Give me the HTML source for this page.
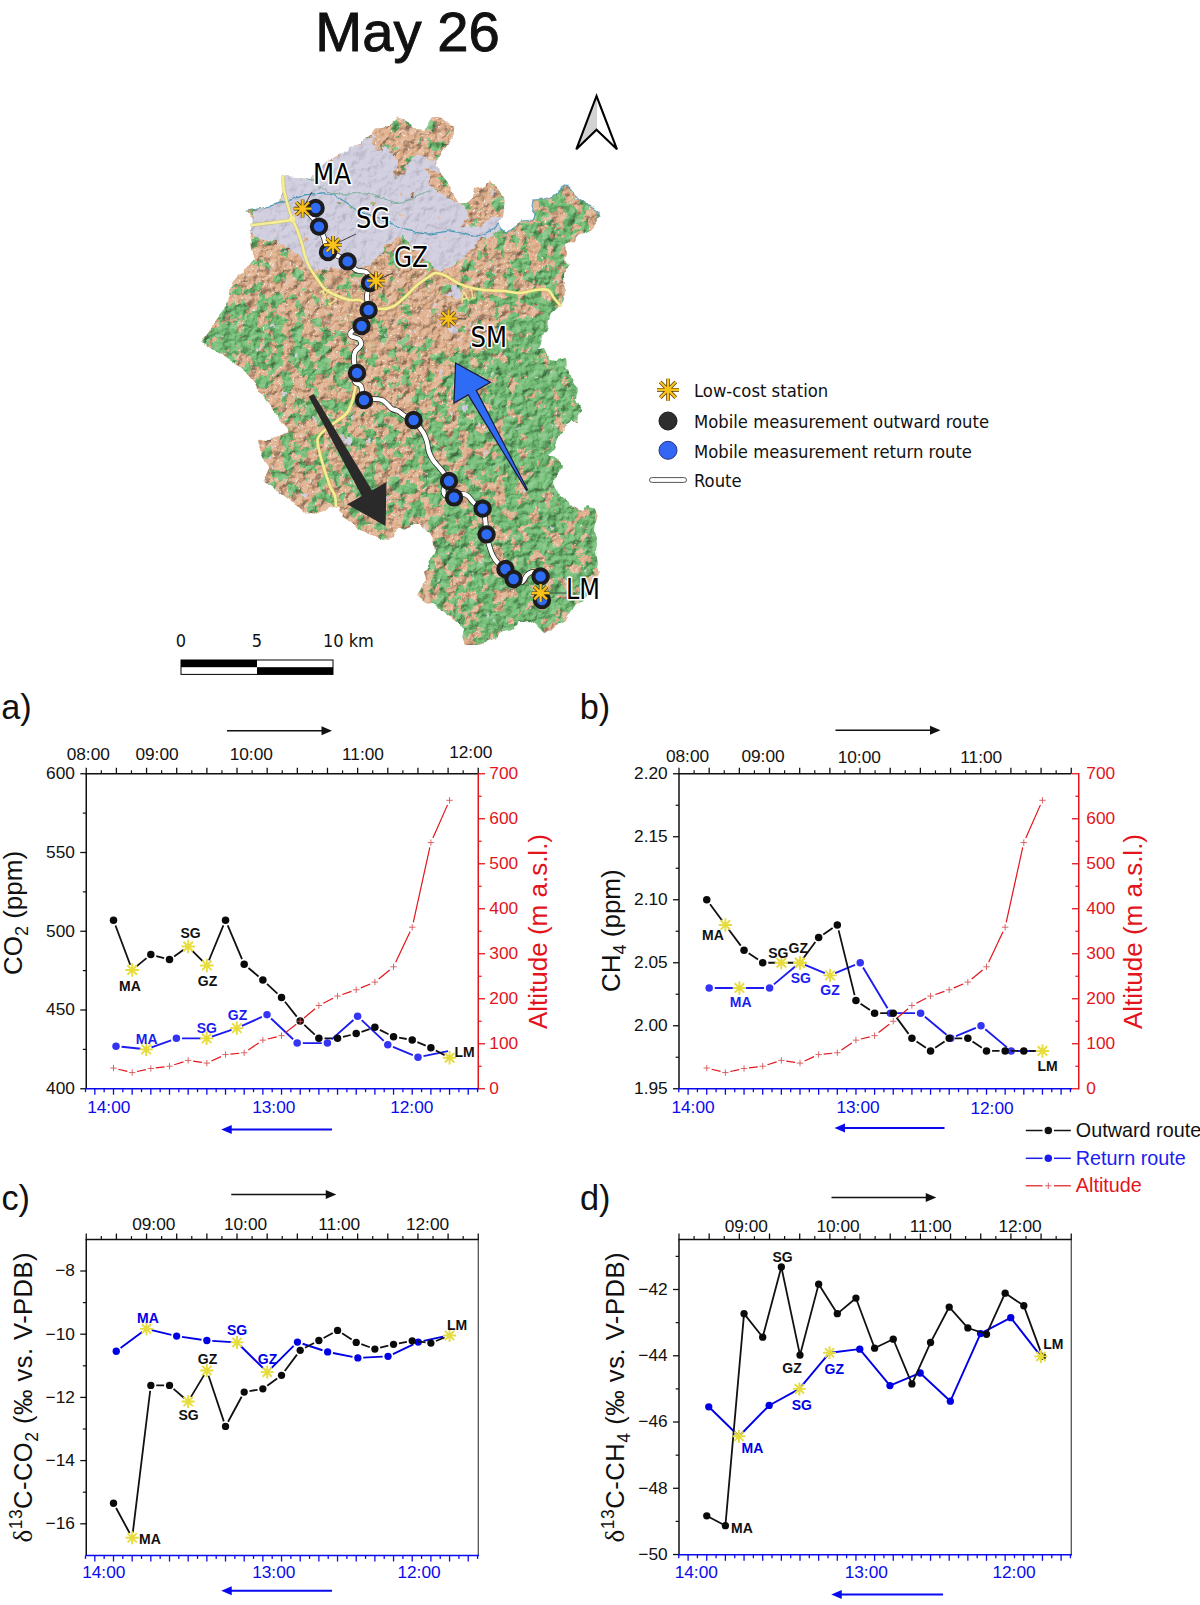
<!DOCTYPE html>
<html lang="en"><head><meta charset="utf-8"><title>May 26</title>
<style>html,body{margin:0;padding:0;background:#fff}svg{display:block}</style></head><body>
<svg width="1200" height="1605" viewBox="0 0 1200 1605">
<rect width="1200" height="1605" fill="#fff"/>
<text x="315.3" y="51.4" font-size="55.5" fill="#111" text-anchor="start" font-weight="normal" font-family="'Liberation Sans', sans-serif" textLength="184.4" lengthAdjust="spacingAndGlyphs" stroke="#111" stroke-width="0.9">May 26</text>
<defs>
<clipPath id="mapclip"><path d="M245 211L260 208L278 203L284 190L283 176L310 178L325 162.5L340 155L350 147.5L365 140L375 130L387.5 126L397.5 117.5L407.5 120L415 129L425 130L432.5 117.5L440 116L445 121L453.75 126L452.5 137.5L442.5 152.5L436 162.5L440 172.5L450 185L455 197.5L460 204L468 204L472 196L474 189L484 187L490 181L496 185L500 192L504 198L503 208L504 215L498 223L501 228L506 232L514 226L522 220L532 219L536 215L532 206L533 200L544 199L558 195L560 189L566 185L571 190L578 198L588 205L597 211L599 217L595 224L592 229L580 235L574 241L566 244L567 254L564 260L570 265L566 272L563 280L565 290L564 300L560 306L552 313L549 320L548 328L543 334L540 343L538 349L544 348L547 354L550 360L558 361L565 359L566 366L570 373L573 382L577 390L576 400L579 406L583 411L578 416L577 423L571 420L568 426L562 432L558 440L555 448L549 455L558 460L563 467L559 473L553 480L556 488L560 495L570 503L577 510L584 511L588 505L594 509L597 518L595 530L597 540L595 552L597 562L600 572L596 580L590 596L576 604L571 612L566 620L558 624L552 630L544 632L536 624L528 620L520 622L512 630L504 632L494 638L486 641L480 645L466 645L462 638L464 630L458 622L446 616L440 608L432 604L422 600L417 596L422 588L426 580L424 572L428 566L432 558L435 550L433 542L429 534L420 524L414 524L406 530L400 528L392 538L382 540L370 534L360 530L350 522L342 516L338 506L330 508L322 512L314 516L306 514L298 506L290 500L282 494L274 488L264 482L268 474L270 468L264 460L259 450L257 439L266 441L278 436L290 432L284 424L276 414L268 404L260 394L256 384L248 374L238 366L226 358L214 350L201 342L208 332L216 320L224 310L230 296L231 284L238 276L246 268L254 258L252 248L250 236L252 224L250 214Z"/></clipPath>
<filter id="mottle" x="0" y="0" width="1" height="1" filterUnits="objectBoundingBox" color-interpolation-filters="sRGB">
<feGaussianBlur in="SourceGraphic" stdDeviation="7" result="field"/>
<feTurbulence type="fractalNoise" baseFrequency="0.085" numOctaves="4" seed="7" result="noise"/>
<feComposite in="field" in2="noise" operator="arithmetic" k1="0" k2="1" k3="2.6" k4="-1.3" result="sum"/>
<feComponentTransfer in="sum" result="mask"><feFuncA type="linear" slope="14" intercept="-6.5"/></feComponentTransfer>
<feFlood flood-color="#6fbb72" result="g"/>
<feComposite in="g" in2="mask" operator="in"/>
</filter>
<filter id="greyedge" x="-0.05" y="-0.05" width="1.1" height="1.1" color-interpolation-filters="sRGB">
<feGaussianBlur in="SourceGraphic" stdDeviation="2.2" result="field"/>
<feTurbulence type="fractalNoise" baseFrequency="0.09" numOctaves="3" seed="3" result="noise"/>
<feComposite in="field" in2="noise" operator="arithmetic" k1="0" k2="1" k3="1.6" k4="-0.8" result="sum"/>
<feComponentTransfer in="sum" result="mask"><feFuncA type="linear" slope="14" intercept="-6.5"/></feComponentTransfer>
<feFlood flood-color="#d1cfe0" result="g"/>
<feComposite in="g" in2="mask" operator="in"/>
</filter>
<filter id="relief" x="0" y="0" width="1" height="1" color-interpolation-filters="sRGB">
<feTurbulence type="fractalNoise" baseFrequency="0.11" numOctaves="3" seed="11" result="n"/>
<feDiffuseLighting in="n" surfaceScale="2.6" diffuseConstant="0.72" lighting-color="#fff" result="lit"><feDistantLight azimuth="225" elevation="45"/></feDiffuseLighting>
<feComposite in="lit" in2="SourceGraphic" operator="in"/>
</filter>
<filter id="specks" x="0" y="0" width="1" height="1" color-interpolation-filters="sRGB">
<feTurbulence type="fractalNoise" baseFrequency="0.4" numOctaves="2" seed="5" result="noise"/>
<feComponentTransfer in="noise" result="mask"><feFuncA type="linear" slope="14" intercept="-9.3"/></feComponentTransfer>
<feFlood flood-color="#eadfd8" result="g"/>
<feComposite in="g" in2="mask" operator="in" result="sp"/>
<feComposite in="sp" in2="SourceGraphic" operator="in"/>
</filter>
<filter id="jag" filterUnits="userSpaceOnUse" x="180" y="80" width="450" height="590" color-interpolation-filters="sRGB">
<feTurbulence type="fractalNoise" baseFrequency="0.11" numOctaves="2" seed="21" result="t"/>
<feDisplacementMap in="SourceGraphic" in2="t" scale="5.5" xChannelSelector="R" yChannelSelector="G"/>
</filter>
</defs>
<g filter="url(#jag)"><g clip-path="url(#mapclip)">
<rect x="190" y="85" width="430" height="575" fill="#dfae8a"/>
<rect x="190" y="85" width="430" height="575" fill="#fff" filter="url(#specks)"/>
<g filter="url(#mottle)">
<rect x="150" y="45" width="510" height="655" fill="#fff" fill-opacity="0.12"/>
<path d="M455 350L500 330L548 300L570 300L600 330L585 410L560 440L600 510L600 575L575 610L540 635L470 648L445 615L420 598L430 560L435 545L420 522L400 528L395 500L410 470L400 440L430 410L440 380Z" fill="#fff" fill-opacity="0.58"/>
<path d="M500 340L560 310L600 340L590 420L560 450L575 500L540 520L505 470L490 400Z" fill="#fff" fill-opacity="0.65"/>
<path d="M520 520L600 500L605 600L540 640L480 640L470 600Z" fill="#fff" fill-opacity="0.3"/>
<path d="M262 380L300 370L350 380L400 440L395 500L380 540L340 515L300 505L262 480L257 440L290 432Z" fill="#fff" fill-opacity="0.32"/>
<path d="M200 342L212 324L232 290L250 285L270 300L300 330L340 335L352 350L352 380L300 370L262 380L248 374L226 358Z" fill="#fff" fill-opacity="0.6"/>
<path d="M200 342L215 320L240 320L262 350L240 370Z" fill="#fff" fill-opacity="0.4"/>
<path d="M505 232L522 220L536 215L533 200L560 190L566 185L599 215L580 235L566 244L567 254L570 265L563 280L564 300L549 320L530 330L510 300L520 270L525 250Z" fill="#fff" fill-opacity="0.55"/>
<path d="M470 250L505 240L525 250L520 270L510 300L530 330L500 330L475 320L465 290Z" fill="#fff" fill-opacity="0.22"/>
<path d="M425 118L456 122L450 150L436 163L420 150L400 122Z" fill="#fff" fill-opacity="0.25"/>
<path d="M352 330L400 340L455 350L440 380L430 410L400 440L350 380Z" fill="#fff" fill-opacity="0.18"/>
</g>
<g style="mix-blend-mode:hard-light" opacity="0.5"><rect x="190" y="85" width="430" height="575" fill="#fff" filter="url(#relief)"/></g>
<g filter="url(#greyedge)">
<rect x="190" y="85" width="430" height="575" fill="#fff" fill-opacity="0.01"/>
<path d="M250 214L262 207L280 202L284 190L283 176L310 178L325 162L340 155L350 147L365 140L371 142L377 148L386 146L392 155L399 162L395 177L403 173L410 160L417 155L428 160L434 162L436 170L428 171L432 186L441 195L450 199L458 203L465 205L467 214L463 225L470 228L483 225L491 217L502 219L500 228L490 236L478 240L470 252L460 260L450 268L436 272L430 260L416 250L405 240L395 238L388 244L380 254L364 268L350 272L330 266L318 272L308 268L298 254L284 244L270 240L250 236Z" fill="#fff" fill-opacity="0.95"/>
<circle cx="455" cy="290" r="9" fill="#fff" fill-opacity="0.6"/>
<circle cx="452" cy="330" r="7" fill="#fff" fill-opacity="0.6"/>
<circle cx="415" cy="345" r="6" fill="#fff" fill-opacity="0.6"/>
<circle cx="470" cy="395" r="5" fill="#fff" fill-opacity="0.6"/>
<circle cx="345" cy="440" r="6" fill="#fff" fill-opacity="0.6"/>
<circle cx="385" cy="500" r="6" fill="#fff" fill-opacity="0.6"/>
<circle cx="428" cy="475" r="5" fill="#fff" fill-opacity="0.6"/>
<circle cx="325" cy="395" r="5" fill="#fff" fill-opacity="0.6"/>
<circle cx="300" cy="352" r="4" fill="#fff" fill-opacity="0.6"/>
<circle cx="530" cy="385" r="5" fill="#fff" fill-opacity="0.6"/>
<circle cx="465" cy="410" r="5" fill="#fff" fill-opacity="0.6"/>
<circle cx="495" cy="620" r="5" fill="#fff" fill-opacity="0.6"/>
<circle cx="585" cy="440" r="3" fill="#fff" fill-opacity="0.6"/>
</g>
<g style="mix-blend-mode:hard-light" opacity="0.2"><rect x="190" y="85" width="430" height="575" fill="#fff" filter="url(#relief)"/></g>
<path d="M245 211C248.17 210.33 257.5 208.5 264 207C270.5 205.5 278 203.67 284 202C290 200.33 294 198.33 300 197C306 195.67 314.33 194.33 320 194C325.67 193.67 329.67 193.5 334 195C338.33 196.5 341.67 200.17 346 203C350.33 205.83 355 209.5 360 212C365 214.5 370.67 216 376 218C381.33 220 387.67 222.17 392 224C396.33 225.83 398 227.67 402 229C406 230.33 412 231.17 416 232C420 232.83 422 233.93 426 234C430 234.07 435.67 232.9 440 232.4C444.33 231.9 448 230.73 452 231C456 231.27 460 233.17 464 234C468 234.83 472 236.33 476 236C480 235.67 484.67 233.83 488 232C491.33 230.17 494 226.17 496 225C498 223.83 499.17 224.33 500 225C500.83 225.67 499.67 227.83 501 229C502.33 230.17 506.83 231.5 508 232" fill="none" stroke="#4f9bb8" stroke-width="1.3"/>
<path d="M283 175.5C287.5 176 302.17 175.67 310 178.5C317.83 181.33 320.83 189.92 330 192.5C339.17 195.08 356.67 193.17 365 194C373.33 194.83 374.58 196.08 380 197.5C385.42 198.92 391.67 202.5 397.5 202.5C403.33 202.5 409.58 199.58 415 197.5C420.42 195.42 427.5 191.25 430 190" fill="none" stroke="#6aa88c" stroke-width="0.9"/>
</g>
<path d="M501 228L506 232L514 226L522 220L532 219L536 215L532 206L533 200L544 199L558 195L560 189L566 185L571 190L578 198L588 205L597 211L599 217" fill="none" stroke="#5a9db8" stroke-width="1.1" stroke-linejoin="round" opacity="0.9"/>
</g>
<path d="M283 177C283.17 179.17 283.17 185.17 284 190C284.83 194.83 286.67 201.33 288 206C289.33 210.67 290.33 213.67 292 218C293.67 222.33 296.33 227.67 298 232C299.67 236.33 300.83 240 302 244C303.17 248 303.67 252 305 256C306.33 260 307.83 264 310 268C312.17 272 315.33 276.33 318 280C320.67 283.67 322.67 287.33 326 290C329.33 292.67 334 294.33 338 296C342 297.67 346.33 299.33 350 300C353.67 300.67 357 299 360 300C363 301 364.33 304.5 368 306C371.67 307.5 377.67 309 382 309C386.33 309 390 308.17 394 306C398 303.83 402.33 299.33 406 296C409.67 292.67 412 289.33 416 286C420 282.67 426.67 278.17 430 276C433.33 273.83 433.33 273 436 273C438.67 273 442.67 274.5 446 276C449.33 277.5 452.33 280.17 456 282C459.67 283.83 463.33 285.67 468 287C472.67 288.33 478 289.33 484 290C490 290.67 498 290.5 504 291C510 291.5 514.67 293.17 520 293C525.33 292.83 531.33 290.5 536 290C540.67 289.5 545 288.67 548 290C551 291.33 552 295.5 554 298C556 300.5 559 303.83 560 305" fill="none" stroke="#b9ad4e" stroke-width="3.8" stroke-linecap="round" opacity="0.55"/>
<path d="M283 177C283.17 179.17 283.17 185.17 284 190C284.83 194.83 286.67 201.33 288 206C289.33 210.67 290.33 213.67 292 218C293.67 222.33 296.33 227.67 298 232C299.67 236.33 300.83 240 302 244C303.17 248 303.67 252 305 256C306.33 260 307.83 264 310 268C312.17 272 315.33 276.33 318 280C320.67 283.67 322.67 287.33 326 290C329.33 292.67 334 294.33 338 296C342 297.67 346.33 299.33 350 300C353.67 300.67 357 299 360 300C363 301 364.33 304.5 368 306C371.67 307.5 377.67 309 382 309C386.33 309 390 308.17 394 306C398 303.83 402.33 299.33 406 296C409.67 292.67 412 289.33 416 286C420 282.67 426.67 278.17 430 276C433.33 273.83 433.33 273 436 273C438.67 273 442.67 274.5 446 276C449.33 277.5 452.33 280.17 456 282C459.67 283.83 463.33 285.67 468 287C472.67 288.33 478 289.33 484 290C490 290.67 498 290.5 504 291C510 291.5 514.67 293.17 520 293C525.33 292.83 531.33 290.5 536 290C540.67 289.5 545 288.67 548 290C551 291.33 552 295.5 554 298C556 300.5 559 303.83 560 305" fill="none" stroke="#f5ee93" stroke-width="2.6" stroke-linecap="round"/>
<path d="M292 220C288.33 220.5 276.67 222.17 270 223C263.33 223.83 255 224.67 252 225" fill="none" stroke="#b9ad4e" stroke-width="3.8" stroke-linecap="round" opacity="0.55"/>
<path d="M292 220C288.33 220.5 276.67 222.17 270 223C263.33 223.83 255 224.67 252 225" fill="none" stroke="#f5ee93" stroke-width="2.6" stroke-linecap="round"/>
<path d="M356 384C355.33 387 353.67 397 352 402C350.33 407 349.67 410 346 414C342.33 418 334.67 422 330 426C325.33 430 319.67 433.33 318 438C316.33 442.67 319 449 320 454C321 459 322.33 462.67 324 468C325.67 473.33 328.17 481.33 330 486C331.83 490.67 334 492.67 335 496C336 499.33 335.83 504.33 336 506" fill="none" stroke="#b9ad4e" stroke-width="3.8" stroke-linecap="round" opacity="0.55"/>
<path d="M356 384C355.33 387 353.67 397 352 402C350.33 407 349.67 410 346 414C342.33 418 334.67 422 330 426C325.33 430 319.67 433.33 318 438C316.33 442.67 319 449 320 454C321 459 322.33 462.67 324 468C325.67 473.33 328.17 481.33 330 486C331.83 490.67 334 492.67 335 496C336 499.33 335.83 504.33 336 506" fill="none" stroke="#f5ee93" stroke-width="2.6" stroke-linecap="round"/>
<circle cx="292" cy="219" r="3" fill="#f7f08c"/>
<text x="319" y="292" font-size="13.5" fill="#f0e88a" font-family="'DejaVu Sans Condensed', 'Liberation Sans', sans-serif" transform="rotate(52 319 292)">A-1</text>
<text x="462" y="303" font-size="14" fill="#f0e88a" font-family="'DejaVu Sans Condensed', 'Liberation Sans', sans-serif" transform="rotate(-20 462 303)" font-style="italic">A1</text>
<path d="M302.6 208.6C303.83 209.5 307.27 211 310 214C312.73 217 316.67 222.6 319 226.6C321.33 230.6 322.5 233.77 324 238C325.5 242.23 325.67 249 328 252C330.33 255 334.73 254.43 338 256C341.27 257.57 344.6 259.07 347.6 261.4C350.6 263.73 352.93 268.23 356 270C359.07 271.77 363.5 270.33 366 272C368.5 273.67 370.33 278.17 371 280C371.67 281.83 370.67 280.33 370 283C369.33 285.67 367.23 291.5 367 296C366.77 300.5 368.93 306.33 368.6 310C368.27 313.67 366.17 315.33 365 318C363.83 320.67 363.77 323.83 361.6 326C359.43 328.17 353.77 329.33 352 331C350.23 332.67 349.83 334.67 351 336C352.17 337.33 357.33 337.5 359 339C360.67 340.5 361.67 342.83 361 345C360.33 347.17 356.17 349.17 355 352C353.83 354.83 353.67 358.5 354 362C354.33 365.5 356.83 369.67 357 373C357.17 376.33 354.33 379.83 355 382C355.67 384.17 359.5 383 361 386C362.5 389 362.17 397.83 364 400C365.83 402.17 369 399 372 399C375 399 379.33 399 382 400C384.67 401 386.33 403.5 388 405C389.67 406.5 390.33 408 392 409C393.67 410 395.83 409.83 398 411C400.17 412.17 402.4 414.5 405 416C407.6 417.5 411.1 418 413.6 420C416.1 422 418.27 425.67 420 428C421.73 430.33 422.83 431.67 424 434C425.17 436.33 426.17 439 427 442C427.83 445 428 449 429 452C430 455 431.5 457.67 433 460C434.5 462.33 436.33 464 438 466C439.67 468 441.17 469.5 443 472C444.83 474.5 448.83 478.33 449 481C449.17 483.67 444.67 485.67 444 488C443.33 490.33 443.33 493.43 445 495C446.67 496.57 451.17 497.57 454 497.4C456.83 497.23 459.67 494.23 462 494C464.33 493.77 466 494.5 468 496C470 497.5 471.57 500.9 474 503C476.43 505.1 480.77 506.1 482.6 508.6C484.43 511.1 484.33 513.7 485 518C485.67 522.3 485.93 529.9 486.6 534.4C487.27 538.9 487.93 541.4 489 545C490.07 548.6 491.5 553 493 556C494.5 559 495.93 560.83 498 563C500.07 565.17 502.8 566.33 505.4 569C508 571.67 510.83 576.83 513.6 579C516.37 581.17 519.77 582.67 522 582C524.23 581.33 525.17 576.67 527 575C528.83 573.33 530.73 571.77 533 572C535.27 572.23 539.33 575.67 540.6 576.4" fill="none" stroke="#222" stroke-width="5.6" stroke-linecap="round" stroke-linejoin="round"/>
<path d="M302.6 208.6C303.83 209.5 307.27 211 310 214C312.73 217 316.67 222.6 319 226.6C321.33 230.6 322.5 233.77 324 238C325.5 242.23 325.67 249 328 252C330.33 255 334.73 254.43 338 256C341.27 257.57 344.6 259.07 347.6 261.4C350.6 263.73 352.93 268.23 356 270C359.07 271.77 363.5 270.33 366 272C368.5 273.67 370.33 278.17 371 280C371.67 281.83 370.67 280.33 370 283C369.33 285.67 367.23 291.5 367 296C366.77 300.5 368.93 306.33 368.6 310C368.27 313.67 366.17 315.33 365 318C363.83 320.67 363.77 323.83 361.6 326C359.43 328.17 353.77 329.33 352 331C350.23 332.67 349.83 334.67 351 336C352.17 337.33 357.33 337.5 359 339C360.67 340.5 361.67 342.83 361 345C360.33 347.17 356.17 349.17 355 352C353.83 354.83 353.67 358.5 354 362C354.33 365.5 356.83 369.67 357 373C357.17 376.33 354.33 379.83 355 382C355.67 384.17 359.5 383 361 386C362.5 389 362.17 397.83 364 400C365.83 402.17 369 399 372 399C375 399 379.33 399 382 400C384.67 401 386.33 403.5 388 405C389.67 406.5 390.33 408 392 409C393.67 410 395.83 409.83 398 411C400.17 412.17 402.4 414.5 405 416C407.6 417.5 411.1 418 413.6 420C416.1 422 418.27 425.67 420 428C421.73 430.33 422.83 431.67 424 434C425.17 436.33 426.17 439 427 442C427.83 445 428 449 429 452C430 455 431.5 457.67 433 460C434.5 462.33 436.33 464 438 466C439.67 468 441.17 469.5 443 472C444.83 474.5 448.83 478.33 449 481C449.17 483.67 444.67 485.67 444 488C443.33 490.33 443.33 493.43 445 495C446.67 496.57 451.17 497.57 454 497.4C456.83 497.23 459.67 494.23 462 494C464.33 493.77 466 494.5 468 496C470 497.5 471.57 500.9 474 503C476.43 505.1 480.77 506.1 482.6 508.6C484.43 511.1 484.33 513.7 485 518C485.67 522.3 485.93 529.9 486.6 534.4C487.27 538.9 487.93 541.4 489 545C490.07 548.6 491.5 553 493 556C494.5 559 495.93 560.83 498 563C500.07 565.17 502.8 566.33 505.4 569C508 571.67 510.83 576.83 513.6 579C516.37 581.17 519.77 582.67 522 582C524.23 581.33 525.17 576.67 527 575C528.83 573.33 530.73 571.77 533 572C535.27 572.23 539.33 575.67 540.6 576.4" fill="none" stroke="#fff" stroke-width="4.2" stroke-linecap="round" stroke-linejoin="round"/>
<path d="M309.59 397.09L362.66 496.3L348.5 504.36L385 525L385.86 483.08L371.7 491.15L313.41 394.91Z" fill="#2a2a2a" stroke="#2a2a2a" stroke-width="1.2" stroke-linejoin="miter"/>
<path d="M527.52 489.71L476.27 390.38L490.57 382.35L455.6 363L453.96 402.93L468.25 394.89L526.48 490.29Z" fill="#2f6cf6" stroke="#1b1b3a" stroke-width="1.2" stroke-linejoin="miter"/>
<circle cx="315.6" cy="208" r="7.2" fill="#2f6cf6" stroke="#1d1d1f" stroke-width="4"/>
<circle cx="319" cy="226.6" r="7.2" fill="#2f6cf6" stroke="#1d1d1f" stroke-width="4"/>
<circle cx="328" cy="252" r="7.2" fill="#2f6cf6" stroke="#1d1d1f" stroke-width="4"/>
<circle cx="347.6" cy="261.4" r="7.2" fill="#2f6cf6" stroke="#1d1d1f" stroke-width="4"/>
<circle cx="370" cy="283" r="7.2" fill="#2f6cf6" stroke="#1d1d1f" stroke-width="4"/>
<circle cx="368.6" cy="310" r="7.2" fill="#2f6cf6" stroke="#1d1d1f" stroke-width="4"/>
<circle cx="361.6" cy="326" r="7.2" fill="#2f6cf6" stroke="#1d1d1f" stroke-width="4"/>
<circle cx="357" cy="373" r="7.2" fill="#2f6cf6" stroke="#1d1d1f" stroke-width="4"/>
<circle cx="364" cy="400" r="7.2" fill="#2f6cf6" stroke="#1d1d1f" stroke-width="4"/>
<circle cx="413.6" cy="420" r="7.2" fill="#2f6cf6" stroke="#1d1d1f" stroke-width="4"/>
<circle cx="449" cy="481" r="7.2" fill="#2f6cf6" stroke="#1d1d1f" stroke-width="4"/>
<circle cx="454" cy="497.4" r="7.2" fill="#2f6cf6" stroke="#1d1d1f" stroke-width="4"/>
<circle cx="482.6" cy="508.6" r="7.2" fill="#2f6cf6" stroke="#1d1d1f" stroke-width="4"/>
<circle cx="486.6" cy="534.4" r="7.2" fill="#2f6cf6" stroke="#1d1d1f" stroke-width="4"/>
<circle cx="505.4" cy="569" r="7.2" fill="#2f6cf6" stroke="#1d1d1f" stroke-width="4"/>
<circle cx="513.6" cy="579" r="7.2" fill="#2f6cf6" stroke="#1d1d1f" stroke-width="4"/>
<circle cx="540.6" cy="576.4" r="7.2" fill="#2f6cf6" stroke="#1d1d1f" stroke-width="4"/>
<circle cx="542" cy="600" r="7.2" fill="#2f6cf6" stroke="#1d1d1f" stroke-width="4"/>
<line x1="302.6" y1="208.6" x2="312" y2="192" stroke="#333" stroke-width="0.9" />
<line x1="333" y1="245" x2="356" y2="234" stroke="#333" stroke-width="0.9" />
<line x1="376" y1="280.6" x2="393" y2="273" stroke="#333" stroke-width="0.9" />
<line x1="448.5" y1="318.5" x2="466" y2="319" stroke="#333" stroke-width="0.9" />
<line x1="540.6" y1="593" x2="566" y2="593" stroke="#333" stroke-width="0.9" />
<path d="M293.6 208.6L311.6 208.6M296.24 202.24L308.96 214.96M302.6 199.6L302.6 217.6M308.96 202.24L296.24 214.96" stroke="#4a3410" stroke-width="3.5999999999999996" fill="none"/>
<path d="M293.6 208.6L311.6 208.6M296.24 202.24L308.96 214.96M302.6 199.6L302.6 217.6M308.96 202.24L296.24 214.96" stroke="#f9c21a" stroke-width="2.3" fill="none"/>
<path d="M324 245L342 245M326.64 238.64L339.36 251.36M333 236L333 254M339.36 238.64L326.64 251.36" stroke="#4a3410" stroke-width="3.5999999999999996" fill="none"/>
<path d="M324 245L342 245M326.64 238.64L339.36 251.36M333 236L333 254M339.36 238.64L326.64 251.36" stroke="#f9c21a" stroke-width="2.3" fill="none"/>
<path d="M367 280.6L385 280.6M369.64 274.24L382.36 286.96M376 271.6L376 289.6M382.36 274.24L369.64 286.96" stroke="#4a3410" stroke-width="3.5999999999999996" fill="none"/>
<path d="M367 280.6L385 280.6M369.64 274.24L382.36 286.96M376 271.6L376 289.6M382.36 274.24L369.64 286.96" stroke="#f9c21a" stroke-width="2.3" fill="none"/>
<path d="M439.5 318.5L457.5 318.5M442.14 312.14L454.86 324.86M448.5 309.5L448.5 327.5M454.86 312.14L442.14 324.86" stroke="#4a3410" stroke-width="3.5999999999999996" fill="none"/>
<path d="M439.5 318.5L457.5 318.5M442.14 312.14L454.86 324.86M448.5 309.5L448.5 327.5M454.86 312.14L442.14 324.86" stroke="#f9c21a" stroke-width="2.3" fill="none"/>
<path d="M531.6 593L549.6 593M534.24 586.64L546.96 599.36M540.6 584L540.6 602M546.96 586.64L534.24 599.36" stroke="#4a3410" stroke-width="3.5999999999999996" fill="none"/>
<path d="M531.6 593L549.6 593M534.24 586.64L546.96 599.36M540.6 584L540.6 602M546.96 586.64L534.24 599.36" stroke="#f9c21a" stroke-width="2.3" fill="none"/>
<g font-family="'DejaVu Sans Condensed', 'Liberation Sans', sans-serif">
<text x="313" y="184" font-size="29" fill="#000" stroke="#fff" stroke-width="3.2" stroke-linejoin="round" paint-order="stroke" textLength="38" lengthAdjust="spacingAndGlyphs">MA</text>
<text x="356" y="228" font-size="29" fill="#000" stroke="#fff" stroke-width="3.2" stroke-linejoin="round" paint-order="stroke" textLength="34" lengthAdjust="spacingAndGlyphs">SG</text>
<text x="394" y="267" font-size="29" fill="#000" stroke="#fff" stroke-width="3.2" stroke-linejoin="round" paint-order="stroke" textLength="34" lengthAdjust="spacingAndGlyphs">GZ</text>
<text x="470.5" y="347" font-size="29" fill="#000" stroke="#fff" stroke-width="3.2" stroke-linejoin="round" paint-order="stroke" textLength="36.5" lengthAdjust="spacingAndGlyphs">SM</text>
<text x="566" y="599" font-size="29" fill="#000" stroke="#fff" stroke-width="3.2" stroke-linejoin="round" paint-order="stroke" textLength="34" lengthAdjust="spacingAndGlyphs">LM</text>
<path d="M657 389.8L679 389.8M660.22 382.02L675.78 397.58M668 378.8L668 400.8M675.78 382.02L660.22 397.58" stroke="#4a3410" stroke-width="3.7" fill="none"/>
<path d="M657 389.8L679 389.8M660.22 382.02L675.78 397.58M668 378.8L668 400.8M675.78 382.02L660.22 397.58" stroke="#f9c21a" stroke-width="2.4" fill="none"/>
<circle cx="668" cy="421" r="9" fill="#2e2e2e" stroke="#1a1a1a" stroke-width="1"/>
<circle cx="668" cy="450.3" r="9" fill="#3366f5" stroke="#26327a" stroke-width="1"/>
<rect x="649.5" y="477.6" width="37" height="4.8" rx="2.4" fill="#fff" stroke="#444" stroke-width="0.9"/>
<text x="694" y="397" font-size="18.3" fill="#111">Low-cost station</text>
<text x="694" y="428.2" font-size="18.3" fill="#111">Mobile measurement outward route</text>
<text x="694" y="457.5" font-size="18.3" fill="#111">Mobile measurement return route</text>
<text x="694" y="486.6" font-size="18.3" fill="#111">Route</text>
<rect x="181" y="660" width="152" height="14.4" fill="#fff" stroke="#000" stroke-width="1"/>
<rect x="181" y="660" width="76" height="7.2" fill="#000"/>
<rect x="257" y="667.2" width="76" height="7.2" fill="#000"/>
<text x="181" y="647" font-size="18" fill="#111" text-anchor="middle" font-weight="normal" >0</text>
<text x="257" y="647" font-size="18" fill="#111" text-anchor="middle" font-weight="normal" >5</text>
<text x="323" y="647" font-size="18" fill="#111" text-anchor="start" font-weight="normal" >10 km</text>
</g>
<path d="M596.5 96L576.3 149.3L596.5 129.7Z" fill="#d2d2d2"/>
<path d="M596.5 96L617 149.3L596.5 129.7Z" fill="#fff"/>
<path d="M596.5 96V129.7" stroke="#aaa" stroke-width="0.5"/>
<path d="M596.5 96L576.3 149.3L596.5 129.7L617 149.3Z" fill="none" stroke="#000" stroke-width="2.1" stroke-linejoin="miter"/>
<g font-family="'Liberation Sans', sans-serif">
<g>
<line x1="85.5" y1="773.75" x2="478.25" y2="773.75" stroke="#111" stroke-width="1.5" />
<line x1="86.25" y1="773.75" x2="86.25" y2="767.75" stroke="#111" stroke-width="1.3" />
<line x1="101.33" y1="773.75" x2="101.33" y2="770.35" stroke="#111" stroke-width="1.2" />
<line x1="116.4" y1="773.75" x2="116.4" y2="767.75" stroke="#111" stroke-width="1.3" />
<line x1="131.48" y1="773.75" x2="131.48" y2="770.35" stroke="#111" stroke-width="1.2" />
<line x1="146.56" y1="773.75" x2="146.56" y2="767.75" stroke="#111" stroke-width="1.3" />
<line x1="161.63" y1="773.75" x2="161.63" y2="770.35" stroke="#111" stroke-width="1.2" />
<line x1="176.71" y1="773.75" x2="176.71" y2="767.75" stroke="#111" stroke-width="1.3" />
<line x1="191.79" y1="773.75" x2="191.79" y2="770.35" stroke="#111" stroke-width="1.2" />
<line x1="206.87" y1="773.75" x2="206.87" y2="767.75" stroke="#111" stroke-width="1.3" />
<line x1="221.94" y1="773.75" x2="221.94" y2="770.35" stroke="#111" stroke-width="1.2" />
<line x1="237.02" y1="773.75" x2="237.02" y2="767.75" stroke="#111" stroke-width="1.3" />
<line x1="252.1" y1="773.75" x2="252.1" y2="770.35" stroke="#111" stroke-width="1.2" />
<line x1="267.17" y1="773.75" x2="267.17" y2="767.75" stroke="#111" stroke-width="1.3" />
<line x1="282.25" y1="773.75" x2="282.25" y2="770.35" stroke="#111" stroke-width="1.2" />
<line x1="297.33" y1="773.75" x2="297.33" y2="767.75" stroke="#111" stroke-width="1.3" />
<line x1="312.4" y1="773.75" x2="312.4" y2="770.35" stroke="#111" stroke-width="1.2" />
<line x1="327.48" y1="773.75" x2="327.48" y2="767.75" stroke="#111" stroke-width="1.3" />
<line x1="342.56" y1="773.75" x2="342.56" y2="770.35" stroke="#111" stroke-width="1.2" />
<line x1="357.63" y1="773.75" x2="357.63" y2="767.75" stroke="#111" stroke-width="1.3" />
<line x1="372.71" y1="773.75" x2="372.71" y2="770.35" stroke="#111" stroke-width="1.2" />
<line x1="387.79" y1="773.75" x2="387.79" y2="767.75" stroke="#111" stroke-width="1.3" />
<line x1="402.87" y1="773.75" x2="402.87" y2="770.35" stroke="#111" stroke-width="1.2" />
<line x1="417.94" y1="773.75" x2="417.94" y2="767.75" stroke="#111" stroke-width="1.3" />
<line x1="433.02" y1="773.75" x2="433.02" y2="770.35" stroke="#111" stroke-width="1.2" />
<line x1="448.1" y1="773.75" x2="448.1" y2="767.75" stroke="#111" stroke-width="1.3" />
<line x1="463.17" y1="773.75" x2="463.17" y2="770.35" stroke="#111" stroke-width="1.2" />
<line x1="478.25" y1="773.75" x2="478.25" y2="767.75" stroke="#111" stroke-width="1.3" />
<line x1="86.25" y1="773.75" x2="86.25" y2="1088.75" stroke="#111" stroke-width="1.5" />
<line x1="86.25" y1="773.75" x2="80.25" y2="773.75" stroke="#111" stroke-width="1.3" />
<text x="74.95" y="779.15" font-size="17.3" fill="#111" text-anchor="end" font-weight="normal" >600</text>
<line x1="86.25" y1="852.5" x2="80.25" y2="852.5" stroke="#111" stroke-width="1.3" />
<text x="74.95" y="857.9" font-size="17.3" fill="#111" text-anchor="end" font-weight="normal" >550</text>
<line x1="86.25" y1="931.25" x2="80.25" y2="931.25" stroke="#111" stroke-width="1.3" />
<text x="74.95" y="936.65" font-size="17.3" fill="#111" text-anchor="end" font-weight="normal" >500</text>
<line x1="86.25" y1="1010" x2="80.25" y2="1010" stroke="#111" stroke-width="1.3" />
<text x="74.95" y="1015.4" font-size="17.3" fill="#111" text-anchor="end" font-weight="normal" >450</text>
<line x1="86.25" y1="1088.75" x2="80.25" y2="1088.75" stroke="#111" stroke-width="1.3" />
<text x="74.95" y="1094.15" font-size="17.3" fill="#111" text-anchor="end" font-weight="normal" >400</text>
<line x1="86.25" y1="813.12" x2="82.85" y2="813.12" stroke="#111" stroke-width="1.2" />
<line x1="86.25" y1="891.88" x2="82.85" y2="891.88" stroke="#111" stroke-width="1.2" />
<line x1="86.25" y1="970.62" x2="82.85" y2="970.62" stroke="#111" stroke-width="1.2" />
<line x1="86.25" y1="1049.38" x2="82.85" y2="1049.38" stroke="#111" stroke-width="1.2" />
<line x1="478.25" y1="773" x2="478.25" y2="1089.5" stroke="#e3141c" stroke-width="1.5" />
<line x1="478.25" y1="1088.75" x2="485.05" y2="1088.75" stroke="#e3141c" stroke-width="1.3" />
<text x="489.3" y="1094.15" font-size="17.3" fill="#e3141c" text-anchor="start" font-weight="normal" >0</text>
<line x1="478.25" y1="1066.25" x2="481.65" y2="1066.25" stroke="#e3141c" stroke-width="1.2" />
<line x1="478.25" y1="1043.75" x2="485.05" y2="1043.75" stroke="#e3141c" stroke-width="1.3" />
<text x="489.3" y="1049.15" font-size="17.3" fill="#e3141c" text-anchor="start" font-weight="normal" >100</text>
<line x1="478.25" y1="1021.25" x2="481.65" y2="1021.25" stroke="#e3141c" stroke-width="1.2" />
<line x1="478.25" y1="998.75" x2="485.05" y2="998.75" stroke="#e3141c" stroke-width="1.3" />
<text x="489.3" y="1004.15" font-size="17.3" fill="#e3141c" text-anchor="start" font-weight="normal" >200</text>
<line x1="478.25" y1="976.25" x2="481.65" y2="976.25" stroke="#e3141c" stroke-width="1.2" />
<line x1="478.25" y1="953.75" x2="485.05" y2="953.75" stroke="#e3141c" stroke-width="1.3" />
<text x="489.3" y="959.15" font-size="17.3" fill="#e3141c" text-anchor="start" font-weight="normal" >300</text>
<line x1="478.25" y1="931.25" x2="481.65" y2="931.25" stroke="#e3141c" stroke-width="1.2" />
<line x1="478.25" y1="908.75" x2="485.05" y2="908.75" stroke="#e3141c" stroke-width="1.3" />
<text x="489.3" y="914.15" font-size="17.3" fill="#e3141c" text-anchor="start" font-weight="normal" >400</text>
<line x1="478.25" y1="886.25" x2="481.65" y2="886.25" stroke="#e3141c" stroke-width="1.2" />
<line x1="478.25" y1="863.75" x2="485.05" y2="863.75" stroke="#e3141c" stroke-width="1.3" />
<text x="489.3" y="869.15" font-size="17.3" fill="#e3141c" text-anchor="start" font-weight="normal" >500</text>
<line x1="478.25" y1="841.25" x2="481.65" y2="841.25" stroke="#e3141c" stroke-width="1.2" />
<line x1="478.25" y1="818.75" x2="485.05" y2="818.75" stroke="#e3141c" stroke-width="1.3" />
<text x="489.3" y="824.15" font-size="17.3" fill="#e3141c" text-anchor="start" font-weight="normal" >600</text>
<line x1="478.25" y1="796.25" x2="481.65" y2="796.25" stroke="#e3141c" stroke-width="1.2" />
<line x1="478.25" y1="773.75" x2="485.05" y2="773.75" stroke="#e3141c" stroke-width="1.3" />
<text x="489.3" y="779.15" font-size="17.3" fill="#e3141c" text-anchor="start" font-weight="normal" >700</text>
<text transform="translate(547 931.5) rotate(-90)" font-size="26" fill="#e3141c" text-anchor="middle">Altitude (m a.s.l.)</text>
<line x1="85.5" y1="1088.75" x2="478.25" y2="1088.75" stroke="#0a0aee" stroke-width="1.5" />
<line x1="85.5" y1="1088.75" x2="85.5" y2="1092.15" stroke="#0a0aee" stroke-width="1.3" />
<line x1="94.83" y1="1088.75" x2="94.83" y2="1094.75" stroke="#0a0aee" stroke-width="1.3" />
<line x1="104.16" y1="1088.75" x2="104.16" y2="1092.15" stroke="#0a0aee" stroke-width="1.3" />
<line x1="113.5" y1="1088.75" x2="113.5" y2="1094.75" stroke="#0a0aee" stroke-width="1.3" />
<line x1="122.84" y1="1088.75" x2="122.84" y2="1092.15" stroke="#0a0aee" stroke-width="1.3" />
<line x1="132.17" y1="1088.75" x2="132.17" y2="1094.75" stroke="#0a0aee" stroke-width="1.3" />
<line x1="141.5" y1="1088.75" x2="141.5" y2="1092.15" stroke="#0a0aee" stroke-width="1.3" />
<line x1="150.84" y1="1088.75" x2="150.84" y2="1094.75" stroke="#0a0aee" stroke-width="1.3" />
<line x1="160.18" y1="1088.75" x2="160.18" y2="1092.15" stroke="#0a0aee" stroke-width="1.3" />
<line x1="169.51" y1="1088.75" x2="169.51" y2="1094.75" stroke="#0a0aee" stroke-width="1.3" />
<line x1="178.84" y1="1088.75" x2="178.84" y2="1092.15" stroke="#0a0aee" stroke-width="1.3" />
<line x1="188.18" y1="1088.75" x2="188.18" y2="1094.75" stroke="#0a0aee" stroke-width="1.3" />
<line x1="197.52" y1="1088.75" x2="197.52" y2="1092.15" stroke="#0a0aee" stroke-width="1.3" />
<line x1="206.85" y1="1088.75" x2="206.85" y2="1094.75" stroke="#0a0aee" stroke-width="1.3" />
<line x1="216.19" y1="1088.75" x2="216.19" y2="1092.15" stroke="#0a0aee" stroke-width="1.3" />
<line x1="225.52" y1="1088.75" x2="225.52" y2="1094.75" stroke="#0a0aee" stroke-width="1.3" />
<line x1="234.86" y1="1088.75" x2="234.86" y2="1092.15" stroke="#0a0aee" stroke-width="1.3" />
<line x1="244.19" y1="1088.75" x2="244.19" y2="1094.75" stroke="#0a0aee" stroke-width="1.3" />
<line x1="253.53" y1="1088.75" x2="253.53" y2="1092.15" stroke="#0a0aee" stroke-width="1.3" />
<line x1="262.86" y1="1088.75" x2="262.86" y2="1094.75" stroke="#0a0aee" stroke-width="1.3" />
<line x1="272.2" y1="1088.75" x2="272.2" y2="1092.15" stroke="#0a0aee" stroke-width="1.3" />
<line x1="281.53" y1="1088.75" x2="281.53" y2="1094.75" stroke="#0a0aee" stroke-width="1.3" />
<line x1="290.87" y1="1088.75" x2="290.87" y2="1092.15" stroke="#0a0aee" stroke-width="1.3" />
<line x1="300.2" y1="1088.75" x2="300.2" y2="1094.75" stroke="#0a0aee" stroke-width="1.3" />
<line x1="309.54" y1="1088.75" x2="309.54" y2="1092.15" stroke="#0a0aee" stroke-width="1.3" />
<line x1="318.87" y1="1088.75" x2="318.87" y2="1094.75" stroke="#0a0aee" stroke-width="1.3" />
<line x1="328.21" y1="1088.75" x2="328.21" y2="1092.15" stroke="#0a0aee" stroke-width="1.3" />
<line x1="337.54" y1="1088.75" x2="337.54" y2="1094.75" stroke="#0a0aee" stroke-width="1.3" />
<line x1="346.88" y1="1088.75" x2="346.88" y2="1092.15" stroke="#0a0aee" stroke-width="1.3" />
<line x1="356.21" y1="1088.75" x2="356.21" y2="1094.75" stroke="#0a0aee" stroke-width="1.3" />
<line x1="365.55" y1="1088.75" x2="365.55" y2="1092.15" stroke="#0a0aee" stroke-width="1.3" />
<line x1="374.88" y1="1088.75" x2="374.88" y2="1094.75" stroke="#0a0aee" stroke-width="1.3" />
<line x1="384.22" y1="1088.75" x2="384.22" y2="1092.15" stroke="#0a0aee" stroke-width="1.3" />
<line x1="393.55" y1="1088.75" x2="393.55" y2="1094.75" stroke="#0a0aee" stroke-width="1.3" />
<line x1="402.89" y1="1088.75" x2="402.89" y2="1092.15" stroke="#0a0aee" stroke-width="1.3" />
<line x1="412.22" y1="1088.75" x2="412.22" y2="1094.75" stroke="#0a0aee" stroke-width="1.3" />
<line x1="421.56" y1="1088.75" x2="421.56" y2="1092.15" stroke="#0a0aee" stroke-width="1.3" />
<line x1="430.89" y1="1088.75" x2="430.89" y2="1094.75" stroke="#0a0aee" stroke-width="1.3" />
<line x1="440.23" y1="1088.75" x2="440.23" y2="1092.15" stroke="#0a0aee" stroke-width="1.3" />
<line x1="449.56" y1="1088.75" x2="449.56" y2="1094.75" stroke="#0a0aee" stroke-width="1.3" />
<line x1="458.9" y1="1088.75" x2="458.9" y2="1092.15" stroke="#0a0aee" stroke-width="1.3" />
<line x1="468.23" y1="1088.75" x2="468.23" y2="1094.75" stroke="#0a0aee" stroke-width="1.3" />
<line x1="477.57" y1="1088.75" x2="477.57" y2="1092.15" stroke="#0a0aee" stroke-width="1.3" />
<text x="88.25" y="760.3" font-size="17.3" fill="#111" text-anchor="middle" font-weight="normal" >08:00</text>
<text x="157" y="760.3" font-size="17.3" fill="#111" text-anchor="middle" font-weight="normal" >09:00</text>
<text x="251.25" y="760.3" font-size="17.3" fill="#111" text-anchor="middle" font-weight="normal" >10:00</text>
<text x="363" y="760.3" font-size="17.3" fill="#111" text-anchor="middle" font-weight="normal" >11:00</text>
<text x="470.75" y="758.3" font-size="17.3" fill="#111" text-anchor="middle" font-weight="normal" >12:00</text>
<text x="108.75" y="1113.3" font-size="17.3" fill="#0a0aee" text-anchor="middle" font-weight="normal" >14:00</text>
<text x="273.75" y="1113.3" font-size="17.3" fill="#0a0aee" text-anchor="middle" font-weight="normal" >13:00</text>
<text x="411.75" y="1113.3" font-size="17.3" fill="#0a0aee" text-anchor="middle" font-weight="normal" >12:00</text>
<line x1="227" y1="730.75" x2="322.5" y2="730.75" stroke="#111" stroke-width="1.6" />
<path d="M332 730.75L321.5 726.15L321.5 735.35Z" fill="#111"/>
<line x1="230.75" y1="1129.5" x2="332" y2="1129.5" stroke="#0a0aee" stroke-width="1.8" />
<path d="M221.25 1129.5L231.75 1124.9L231.75 1134.1Z" fill="#0a0aee"/>
<text transform="translate(22.4 913) rotate(-90)" font-size="26" fill="#111" text-anchor="middle">CO<tspan font-size="18" dy="6">2</tspan><tspan dy="-6"> (ppm)</tspan></text>
<path d="M121.57 1046.81L140.63 1048.79M151.46 1047.45L171.14 1040.27M182 1038.35L201 1038.35M211.9 1036.55L231.5 1029.91M241.92 1025.84L261.88 1016.99M271.08 1018.56L293.12 1039.24M302.8 1043.08L321.8 1043.08M331.59 1039.36L353.41 1020.02M361.68 1020.13L383.72 1040.82M392.97 1046.81L412.83 1055.09M423.49 1056.13L448.11 1051.12" stroke="#1c1cf0" stroke-width="1.9" fill="none"/>
<circle cx="116" cy="1046.22" r="3.75" fill="#3434f5"/>
<circle cx="176.4" cy="1038.35" r="3.75" fill="#3434f5"/>
<circle cx="267" cy="1014.73" r="3.75" fill="#3434f5"/>
<circle cx="297.2" cy="1043.08" r="3.75" fill="#3434f5"/>
<circle cx="327.4" cy="1043.08" r="3.75" fill="#3434f5"/>
<circle cx="357.6" cy="1016.3" r="3.75" fill="#3434f5"/>
<circle cx="387.8" cy="1044.65" r="3.75" fill="#3434f5"/>
<circle cx="418" cy="1057.25" r="3.75" fill="#3434f5"/>
<path d="M115.47 925.47L130.2 964.75M136.49 966.43L146.52 958.13M156.25 956.02L164.1 958.14M174.1 956.39L183.59 949.74M192.12 950.51L202.91 961.44M208.99 960.25L223.38 925.4M227.7 925.38L242.01 959.17M248.47 967.94L258.58 976.46M266.96 983.88L277.43 993.59M285 1001.79L296.73 1016.63M304.3 1024.83L314.77 1034.54M324.47 1038.35L331.94 1038.35M342.97 1036.98L350.78 1035M361.52 1031.83L369.57 1029.12M379.88 1029.85L388.55 1034.25M399.07 1037.71L406.7 1038.99M417.38 1042.1L425.73 1045.62M435.84 1050.43L444.61 1055.09" stroke="#111" stroke-width="1.8" fill="none"/>
<circle cx="113.5" cy="920.23" r="3.75" fill="#0a0a0a"/>
<circle cx="150.84" cy="954.56" r="3.75" fill="#0a0a0a"/>
<circle cx="169.51" cy="959.6" r="3.75" fill="#0a0a0a"/>
<circle cx="225.52" cy="920.23" r="3.75" fill="#0a0a0a"/>
<circle cx="244.19" cy="964.33" r="3.75" fill="#0a0a0a"/>
<circle cx="262.86" cy="980.08" r="3.75" fill="#0a0a0a"/>
<circle cx="281.53" cy="997.4" r="3.75" fill="#0a0a0a"/>
<circle cx="300.2" cy="1021.02" r="3.75" fill="#0a0a0a"/>
<circle cx="318.87" cy="1038.35" r="3.75" fill="#0a0a0a"/>
<circle cx="337.54" cy="1038.35" r="3.75" fill="#0a0a0a"/>
<circle cx="356.21" cy="1033.62" r="3.75" fill="#0a0a0a"/>
<circle cx="374.88" cy="1027.33" r="3.75" fill="#0a0a0a"/>
<circle cx="393.55" cy="1036.78" r="3.75" fill="#0a0a0a"/>
<circle cx="412.22" cy="1039.92" r="3.75" fill="#0a0a0a"/>
<circle cx="430.89" cy="1047.8" r="3.75" fill="#0a0a0a"/>
<path d="M118.36 1069.22L127.31 1071.38M137.06 1071.49L145.95 1069.56M155.8 1067.9L164.55 1066.85M174.28 1064.75L183.41 1061.9M193.13 1061.12L201.9 1062.38M211.4 1061.02L220.97 1056.63M230.5 1054.07L239.21 1053.23M248.33 1049.95L258.72 1042.95M267.72 1038.98L276.67 1036.82M285.49 1032.6L296.24 1024.3M304.02 1018.03L315.05 1008.72M323.33 1003.24L333.08 998.31M342.28 994.45L351.47 991.35M360.84 987.85L370.25 984M378.75 978.93L389.68 969.97M395.68 962.28L410.09 931.72M413.3 922.32L429.81 847.48M432.91 838.03L447.54 804.87" stroke="#e3141c" stroke-width="1.2" fill="none"/>
<path d="M110.3 1068.05H116.7M113.5 1064.85V1071.25" stroke="#d85555" stroke-width="0.9" fill="none"/>
<path d="M128.97 1072.55H135.37M132.17 1069.35V1075.75" stroke="#d85555" stroke-width="0.9" fill="none"/>
<path d="M147.64 1068.5H154.04M150.84 1065.3V1071.7" stroke="#d85555" stroke-width="0.9" fill="none"/>
<path d="M166.31 1066.25H172.71M169.51 1063.05V1069.45" stroke="#d85555" stroke-width="0.9" fill="none"/>
<path d="M184.98 1060.4H191.38M188.18 1057.2V1063.6" stroke="#d85555" stroke-width="0.9" fill="none"/>
<path d="M203.65 1063.1H210.05M206.85 1059.9V1066.3" stroke="#d85555" stroke-width="0.9" fill="none"/>
<path d="M222.32 1054.55H228.72M225.52 1051.35V1057.75" stroke="#d85555" stroke-width="0.9" fill="none"/>
<path d="M240.99 1052.75H247.39M244.19 1049.55V1055.95" stroke="#d85555" stroke-width="0.9" fill="none"/>
<path d="M259.66 1040.15H266.06M262.86 1036.95V1043.35" stroke="#d85555" stroke-width="0.9" fill="none"/>
<path d="M278.33 1035.65H284.73M281.53 1032.45V1038.85" stroke="#d85555" stroke-width="0.9" fill="none"/>
<path d="M297 1021.25H303.4M300.2 1018.05V1024.45" stroke="#d85555" stroke-width="0.9" fill="none"/>
<path d="M315.67 1005.5H322.07M318.87 1002.3V1008.7" stroke="#d85555" stroke-width="0.9" fill="none"/>
<path d="M334.34 996.05H340.74M337.54 992.85V999.25" stroke="#d85555" stroke-width="0.9" fill="none"/>
<path d="M353.01 989.75H359.41M356.21 986.55V992.95" stroke="#d85555" stroke-width="0.9" fill="none"/>
<path d="M371.68 982.1H378.08M374.88 978.9V985.3" stroke="#d85555" stroke-width="0.9" fill="none"/>
<path d="M390.35 966.8H396.75M393.55 963.6V970" stroke="#d85555" stroke-width="0.9" fill="none"/>
<path d="M409.02 927.2H415.42M412.22 924V930.4" stroke="#d85555" stroke-width="0.9" fill="none"/>
<path d="M427.69 842.6H434.09M430.89 839.4V845.8" stroke="#d85555" stroke-width="0.9" fill="none"/>
<path d="M446.36 800.3H452.76M449.56 797.1V803.5" stroke="#d85555" stroke-width="0.9" fill="none"/>
<path d="M125.47 970L138.87 970M127.43 965.26L136.91 974.73M132.17 963.29L132.17 976.7M136.91 965.26L127.43 974.73" stroke="#e6dc3c" stroke-width="1.9" fill="none"/>
<path d="M181.48 946.53L194.88 946.53M183.44 941.79L192.92 951.27M188.18 939.83L188.18 953.23M192.92 941.79L183.44 951.27" stroke="#e6dc3c" stroke-width="1.9" fill="none"/>
<path d="M200.15 965.43L213.55 965.43M202.11 960.69L211.59 970.17M206.85 958.73L206.85 972.13M211.59 960.69L202.11 970.17" stroke="#e6dc3c" stroke-width="1.9" fill="none"/>
<path d="M442.86 1057.72L456.26 1057.72M444.82 1052.98L454.3 1062.46M449.56 1051.02L449.56 1064.42M454.3 1052.98L444.82 1062.46" stroke="#e6dc3c" stroke-width="1.9" fill="none"/>
<path d="M139.5 1049.38L152.9 1049.38M141.46 1044.64L150.94 1054.11M146.2 1042.67L146.2 1056.08M150.94 1044.64L141.46 1054.11" stroke="#e6dc3c" stroke-width="1.9" fill="none"/>
<path d="M199.9 1038.35L213.3 1038.35M201.86 1033.61L211.34 1043.09M206.6 1031.65L206.6 1045.05M211.34 1033.61L201.86 1043.09" stroke="#e6dc3c" stroke-width="1.9" fill="none"/>
<path d="M230.1 1028.11L243.5 1028.11M232.06 1023.37L241.54 1032.85M236.8 1021.41L236.8 1034.81M241.54 1023.37L232.06 1032.85" stroke="#e6dc3c" stroke-width="1.9" fill="none"/>
<text x="130" y="991.25" font-size="14" fill="#111" text-anchor="middle" font-weight="bold" >MA</text>
<text x="190.5" y="938" font-size="14" fill="#111" text-anchor="middle" font-weight="bold" >SG</text>
<text x="207.5" y="986.25" font-size="14" fill="#111" text-anchor="middle" font-weight="bold" >GZ</text>
<text x="146.75" y="1043.75" font-size="14" fill="#1c1cf0" text-anchor="middle" font-weight="bold" >MA</text>
<text x="206.75" y="1032.5" font-size="14" fill="#1c1cf0" text-anchor="middle" font-weight="bold" >SG</text>
<text x="237.5" y="1020" font-size="14" fill="#1c1cf0" text-anchor="middle" font-weight="bold" >GZ</text>
<text x="464.5" y="1057" font-size="14" fill="#111" text-anchor="middle" font-weight="bold" >LM</text>
</g>
<g>
<line x1="678.25" y1="773.75" x2="1071.25" y2="773.75" stroke="#111" stroke-width="1.5" />
<line x1="679" y1="773.75" x2="679" y2="767.75" stroke="#111" stroke-width="1.3" />
<line x1="694.09" y1="773.75" x2="694.09" y2="770.35" stroke="#111" stroke-width="1.2" />
<line x1="709.17" y1="773.75" x2="709.17" y2="767.75" stroke="#111" stroke-width="1.3" />
<line x1="724.26" y1="773.75" x2="724.26" y2="770.35" stroke="#111" stroke-width="1.2" />
<line x1="739.35" y1="773.75" x2="739.35" y2="767.75" stroke="#111" stroke-width="1.3" />
<line x1="754.43" y1="773.75" x2="754.43" y2="770.35" stroke="#111" stroke-width="1.2" />
<line x1="769.52" y1="773.75" x2="769.52" y2="767.75" stroke="#111" stroke-width="1.3" />
<line x1="784.61" y1="773.75" x2="784.61" y2="770.35" stroke="#111" stroke-width="1.2" />
<line x1="799.69" y1="773.75" x2="799.69" y2="767.75" stroke="#111" stroke-width="1.3" />
<line x1="814.78" y1="773.75" x2="814.78" y2="770.35" stroke="#111" stroke-width="1.2" />
<line x1="829.87" y1="773.75" x2="829.87" y2="767.75" stroke="#111" stroke-width="1.3" />
<line x1="844.95" y1="773.75" x2="844.95" y2="770.35" stroke="#111" stroke-width="1.2" />
<line x1="860.04" y1="773.75" x2="860.04" y2="767.75" stroke="#111" stroke-width="1.3" />
<line x1="875.12" y1="773.75" x2="875.12" y2="770.35" stroke="#111" stroke-width="1.2" />
<line x1="890.21" y1="773.75" x2="890.21" y2="767.75" stroke="#111" stroke-width="1.3" />
<line x1="905.3" y1="773.75" x2="905.3" y2="770.35" stroke="#111" stroke-width="1.2" />
<line x1="920.38" y1="773.75" x2="920.38" y2="767.75" stroke="#111" stroke-width="1.3" />
<line x1="935.47" y1="773.75" x2="935.47" y2="770.35" stroke="#111" stroke-width="1.2" />
<line x1="950.56" y1="773.75" x2="950.56" y2="767.75" stroke="#111" stroke-width="1.3" />
<line x1="965.64" y1="773.75" x2="965.64" y2="770.35" stroke="#111" stroke-width="1.2" />
<line x1="980.73" y1="773.75" x2="980.73" y2="767.75" stroke="#111" stroke-width="1.3" />
<line x1="995.82" y1="773.75" x2="995.82" y2="770.35" stroke="#111" stroke-width="1.2" />
<line x1="1010.9" y1="773.75" x2="1010.9" y2="767.75" stroke="#111" stroke-width="1.3" />
<line x1="1025.99" y1="773.75" x2="1025.99" y2="770.35" stroke="#111" stroke-width="1.2" />
<line x1="1041.08" y1="773.75" x2="1041.08" y2="767.75" stroke="#111" stroke-width="1.3" />
<line x1="1056.16" y1="773.75" x2="1056.16" y2="770.35" stroke="#111" stroke-width="1.2" />
<line x1="1071.25" y1="773.75" x2="1071.25" y2="767.75" stroke="#111" stroke-width="1.3" />
<line x1="679" y1="773.75" x2="679" y2="1088.75" stroke="#111" stroke-width="1.5" />
<line x1="679" y1="773.75" x2="673" y2="773.75" stroke="#111" stroke-width="1.3" />
<text x="667.7" y="779.15" font-size="17.3" fill="#111" text-anchor="end" font-weight="normal" >2.20</text>
<line x1="679" y1="836.75" x2="673" y2="836.75" stroke="#111" stroke-width="1.3" />
<text x="667.7" y="842.15" font-size="17.3" fill="#111" text-anchor="end" font-weight="normal" >2.15</text>
<line x1="679" y1="899.75" x2="673" y2="899.75" stroke="#111" stroke-width="1.3" />
<text x="667.7" y="905.15" font-size="17.3" fill="#111" text-anchor="end" font-weight="normal" >2.10</text>
<line x1="679" y1="962.75" x2="673" y2="962.75" stroke="#111" stroke-width="1.3" />
<text x="667.7" y="968.15" font-size="17.3" fill="#111" text-anchor="end" font-weight="normal" >2.05</text>
<line x1="679" y1="1025.75" x2="673" y2="1025.75" stroke="#111" stroke-width="1.3" />
<text x="667.7" y="1031.15" font-size="17.3" fill="#111" text-anchor="end" font-weight="normal" >2.00</text>
<line x1="679" y1="1088.75" x2="673" y2="1088.75" stroke="#111" stroke-width="1.3" />
<text x="667.7" y="1094.15" font-size="17.3" fill="#111" text-anchor="end" font-weight="normal" >1.95</text>
<line x1="679" y1="805.25" x2="675.6" y2="805.25" stroke="#111" stroke-width="1.2" />
<line x1="679" y1="868.25" x2="675.6" y2="868.25" stroke="#111" stroke-width="1.2" />
<line x1="679" y1="931.25" x2="675.6" y2="931.25" stroke="#111" stroke-width="1.2" />
<line x1="679" y1="994.25" x2="675.6" y2="994.25" stroke="#111" stroke-width="1.2" />
<line x1="679" y1="1057.25" x2="675.6" y2="1057.25" stroke="#111" stroke-width="1.2" />
<line x1="1078.75" y1="773" x2="1078.75" y2="1089.5" stroke="#e3141c" stroke-width="1.5" />
<line x1="1078.75" y1="1088.75" x2="1071.95" y2="1088.75" stroke="#e3141c" stroke-width="1.3" />
<text x="1086.3" y="1094.15" font-size="17.3" fill="#e3141c" text-anchor="start" font-weight="normal" >0</text>
<line x1="1078.75" y1="1066.25" x2="1075.35" y2="1066.25" stroke="#e3141c" stroke-width="1.2" />
<line x1="1078.75" y1="1043.75" x2="1071.95" y2="1043.75" stroke="#e3141c" stroke-width="1.3" />
<text x="1086.3" y="1049.15" font-size="17.3" fill="#e3141c" text-anchor="start" font-weight="normal" >100</text>
<line x1="1078.75" y1="1021.25" x2="1075.35" y2="1021.25" stroke="#e3141c" stroke-width="1.2" />
<line x1="1078.75" y1="998.75" x2="1071.95" y2="998.75" stroke="#e3141c" stroke-width="1.3" />
<text x="1086.3" y="1004.15" font-size="17.3" fill="#e3141c" text-anchor="start" font-weight="normal" >200</text>
<line x1="1078.75" y1="976.25" x2="1075.35" y2="976.25" stroke="#e3141c" stroke-width="1.2" />
<line x1="1078.75" y1="953.75" x2="1071.95" y2="953.75" stroke="#e3141c" stroke-width="1.3" />
<text x="1086.3" y="959.15" font-size="17.3" fill="#e3141c" text-anchor="start" font-weight="normal" >300</text>
<line x1="1078.75" y1="931.25" x2="1075.35" y2="931.25" stroke="#e3141c" stroke-width="1.2" />
<line x1="1078.75" y1="908.75" x2="1071.95" y2="908.75" stroke="#e3141c" stroke-width="1.3" />
<text x="1086.3" y="914.15" font-size="17.3" fill="#e3141c" text-anchor="start" font-weight="normal" >400</text>
<line x1="1078.75" y1="886.25" x2="1075.35" y2="886.25" stroke="#e3141c" stroke-width="1.2" />
<line x1="1078.75" y1="863.75" x2="1071.95" y2="863.75" stroke="#e3141c" stroke-width="1.3" />
<text x="1086.3" y="869.15" font-size="17.3" fill="#e3141c" text-anchor="start" font-weight="normal" >500</text>
<line x1="1078.75" y1="841.25" x2="1075.35" y2="841.25" stroke="#e3141c" stroke-width="1.2" />
<line x1="1078.75" y1="818.75" x2="1071.95" y2="818.75" stroke="#e3141c" stroke-width="1.3" />
<text x="1086.3" y="824.15" font-size="17.3" fill="#e3141c" text-anchor="start" font-weight="normal" >600</text>
<line x1="1078.75" y1="796.25" x2="1075.35" y2="796.25" stroke="#e3141c" stroke-width="1.2" />
<line x1="1078.75" y1="773.75" x2="1071.95" y2="773.75" stroke="#e3141c" stroke-width="1.3" />
<text x="1086.3" y="779.15" font-size="17.3" fill="#e3141c" text-anchor="start" font-weight="normal" >700</text>
<text transform="translate(1142 931.5) rotate(-90)" font-size="26" fill="#e3141c" text-anchor="middle">Altitude (m a.s.l.)</text>
<line x1="678.25" y1="1088.75" x2="1072" y2="1088.75" stroke="#0a0aee" stroke-width="1.5" />
<line x1="678.77" y1="1088.75" x2="678.77" y2="1092.15" stroke="#0a0aee" stroke-width="1.3" />
<line x1="688.1" y1="1088.75" x2="688.1" y2="1094.75" stroke="#0a0aee" stroke-width="1.3" />
<line x1="697.42" y1="1088.75" x2="697.42" y2="1092.15" stroke="#0a0aee" stroke-width="1.3" />
<line x1="706.75" y1="1088.75" x2="706.75" y2="1094.75" stroke="#0a0aee" stroke-width="1.3" />
<line x1="716.08" y1="1088.75" x2="716.08" y2="1092.15" stroke="#0a0aee" stroke-width="1.3" />
<line x1="725.4" y1="1088.75" x2="725.4" y2="1094.75" stroke="#0a0aee" stroke-width="1.3" />
<line x1="734.73" y1="1088.75" x2="734.73" y2="1092.15" stroke="#0a0aee" stroke-width="1.3" />
<line x1="744.05" y1="1088.75" x2="744.05" y2="1094.75" stroke="#0a0aee" stroke-width="1.3" />
<line x1="753.38" y1="1088.75" x2="753.38" y2="1092.15" stroke="#0a0aee" stroke-width="1.3" />
<line x1="762.7" y1="1088.75" x2="762.7" y2="1094.75" stroke="#0a0aee" stroke-width="1.3" />
<line x1="772.02" y1="1088.75" x2="772.02" y2="1092.15" stroke="#0a0aee" stroke-width="1.3" />
<line x1="781.35" y1="1088.75" x2="781.35" y2="1094.75" stroke="#0a0aee" stroke-width="1.3" />
<line x1="790.67" y1="1088.75" x2="790.67" y2="1092.15" stroke="#0a0aee" stroke-width="1.3" />
<line x1="800" y1="1088.75" x2="800" y2="1094.75" stroke="#0a0aee" stroke-width="1.3" />
<line x1="809.33" y1="1088.75" x2="809.33" y2="1092.15" stroke="#0a0aee" stroke-width="1.3" />
<line x1="818.65" y1="1088.75" x2="818.65" y2="1094.75" stroke="#0a0aee" stroke-width="1.3" />
<line x1="827.98" y1="1088.75" x2="827.98" y2="1092.15" stroke="#0a0aee" stroke-width="1.3" />
<line x1="837.3" y1="1088.75" x2="837.3" y2="1094.75" stroke="#0a0aee" stroke-width="1.3" />
<line x1="846.62" y1="1088.75" x2="846.62" y2="1092.15" stroke="#0a0aee" stroke-width="1.3" />
<line x1="855.95" y1="1088.75" x2="855.95" y2="1094.75" stroke="#0a0aee" stroke-width="1.3" />
<line x1="865.27" y1="1088.75" x2="865.27" y2="1092.15" stroke="#0a0aee" stroke-width="1.3" />
<line x1="874.6" y1="1088.75" x2="874.6" y2="1094.75" stroke="#0a0aee" stroke-width="1.3" />
<line x1="883.92" y1="1088.75" x2="883.92" y2="1092.15" stroke="#0a0aee" stroke-width="1.3" />
<line x1="893.25" y1="1088.75" x2="893.25" y2="1094.75" stroke="#0a0aee" stroke-width="1.3" />
<line x1="902.58" y1="1088.75" x2="902.58" y2="1092.15" stroke="#0a0aee" stroke-width="1.3" />
<line x1="911.9" y1="1088.75" x2="911.9" y2="1094.75" stroke="#0a0aee" stroke-width="1.3" />
<line x1="921.23" y1="1088.75" x2="921.23" y2="1092.15" stroke="#0a0aee" stroke-width="1.3" />
<line x1="930.55" y1="1088.75" x2="930.55" y2="1094.75" stroke="#0a0aee" stroke-width="1.3" />
<line x1="939.88" y1="1088.75" x2="939.88" y2="1092.15" stroke="#0a0aee" stroke-width="1.3" />
<line x1="949.2" y1="1088.75" x2="949.2" y2="1094.75" stroke="#0a0aee" stroke-width="1.3" />
<line x1="958.52" y1="1088.75" x2="958.52" y2="1092.15" stroke="#0a0aee" stroke-width="1.3" />
<line x1="967.85" y1="1088.75" x2="967.85" y2="1094.75" stroke="#0a0aee" stroke-width="1.3" />
<line x1="977.17" y1="1088.75" x2="977.17" y2="1092.15" stroke="#0a0aee" stroke-width="1.3" />
<line x1="986.5" y1="1088.75" x2="986.5" y2="1094.75" stroke="#0a0aee" stroke-width="1.3" />
<line x1="995.83" y1="1088.75" x2="995.83" y2="1092.15" stroke="#0a0aee" stroke-width="1.3" />
<line x1="1005.15" y1="1088.75" x2="1005.15" y2="1094.75" stroke="#0a0aee" stroke-width="1.3" />
<line x1="1014.47" y1="1088.75" x2="1014.47" y2="1092.15" stroke="#0a0aee" stroke-width="1.3" />
<line x1="1023.8" y1="1088.75" x2="1023.8" y2="1094.75" stroke="#0a0aee" stroke-width="1.3" />
<line x1="1033.12" y1="1088.75" x2="1033.12" y2="1092.15" stroke="#0a0aee" stroke-width="1.3" />
<line x1="1042.45" y1="1088.75" x2="1042.45" y2="1094.75" stroke="#0a0aee" stroke-width="1.3" />
<line x1="1051.78" y1="1088.75" x2="1051.78" y2="1092.15" stroke="#0a0aee" stroke-width="1.3" />
<line x1="1061.1" y1="1088.75" x2="1061.1" y2="1094.75" stroke="#0a0aee" stroke-width="1.3" />
<line x1="1070.42" y1="1088.75" x2="1070.42" y2="1092.15" stroke="#0a0aee" stroke-width="1.3" />
<text x="687.5" y="761.8" font-size="17.3" fill="#111" text-anchor="middle" font-weight="normal" >08:00</text>
<text x="763" y="761.8" font-size="17.3" fill="#111" text-anchor="middle" font-weight="normal" >09:00</text>
<text x="859.25" y="763.3" font-size="17.3" fill="#111" text-anchor="middle" font-weight="normal" >10:00</text>
<text x="981.25" y="763.3" font-size="17.3" fill="#111" text-anchor="middle" font-weight="normal" >11:00</text>
<text x="693" y="1113.3" font-size="17.3" fill="#0a0aee" text-anchor="middle" font-weight="normal" >14:00</text>
<text x="858" y="1113.3" font-size="17.3" fill="#0a0aee" text-anchor="middle" font-weight="normal" >13:00</text>
<text x="992" y="1113.8" font-size="17.3" fill="#0a0aee" text-anchor="middle" font-weight="normal" >12:00</text>
<line x1="835.5" y1="730.25" x2="931" y2="730.25" stroke="#111" stroke-width="1.6" />
<path d="M940.5 730.25L930 725.65L930 734.85Z" fill="#111"/>
<line x1="844" y1="1128" x2="944.5" y2="1128" stroke="#0a0aee" stroke-width="1.8" />
<path d="M834.5 1128L845 1123.4L845 1132.6Z" fill="#0a0aee"/>
<text transform="translate(620.3 930.7) rotate(-90)" font-size="26" fill="#111" text-anchor="middle">CH<tspan font-size="18" dy="6">4</tspan><tspan dy="-6"> (ppm)</tspan></text>
<path d="M714.8 987.95L733.8 987.95M745 987.95L764 987.95M773.9 984.36L795.5 966.34M804.97 964.91L824.83 973.19M835.17 973.19L855.03 964.91M863.08 967.55L887.52 1008.35M896 1013.15L915 1013.15M924.9 1016.74L946.5 1034.76M955.97 1036.19L975.83 1027.91M985.3 1029.34L1006.9 1047.36M1016.8 1050.95L1035.8 1050.95" stroke="#1c1cf0" stroke-width="1.9" fill="none"/>
<circle cx="709.2" cy="987.95" r="3.75" fill="#3434f5"/>
<circle cx="769.6" cy="987.95" r="3.75" fill="#3434f5"/>
<circle cx="860.2" cy="962.75" r="3.75" fill="#3434f5"/>
<circle cx="890.4" cy="1013.15" r="3.75" fill="#3434f5"/>
<circle cx="920.6" cy="1013.15" r="3.75" fill="#3434f5"/>
<circle cx="950.8" cy="1038.35" r="3.75" fill="#3434f5"/>
<circle cx="981" cy="1025.75" r="3.75" fill="#3434f5"/>
<circle cx="1011.2" cy="1050.95" r="3.75" fill="#3434f5"/>
<path d="M710.08 904.25L722.07 920.45M728.73 929.45L740.72 945.65M748.69 953.28L758.06 959.62M768.3 962.75L775.75 962.75M786.95 962.75L794.4 962.75M803.33 958.25L815.32 942.05M823.29 934.42L832.66 928.08M838.64 930.39L854.61 995.11M860.59 1003.68L869.96 1010.02M880.2 1013.15L887.65 1013.15M896.58 1017.65L908.57 1033.85M916.54 1041.48L925.91 1047.82M935.19 1047.82L944.56 1041.48M954.8 1038.35L962.25 1038.35M972.49 1041.48L981.86 1047.82M992.1 1050.95L999.55 1050.95M1010.75 1050.95L1018.2 1050.95M1029.4 1050.95L1036.85 1050.95" stroke="#111" stroke-width="1.8" fill="none"/>
<circle cx="706.75" cy="899.75" r="3.75" fill="#0a0a0a"/>
<circle cx="744.05" cy="950.15" r="3.75" fill="#0a0a0a"/>
<circle cx="762.7" cy="962.75" r="3.75" fill="#0a0a0a"/>
<circle cx="818.65" cy="937.55" r="3.75" fill="#0a0a0a"/>
<circle cx="837.3" cy="924.95" r="3.75" fill="#0a0a0a"/>
<circle cx="855.95" cy="1000.55" r="3.75" fill="#0a0a0a"/>
<circle cx="874.6" cy="1013.15" r="3.75" fill="#0a0a0a"/>
<circle cx="893.25" cy="1013.15" r="3.75" fill="#0a0a0a"/>
<circle cx="911.9" cy="1038.35" r="3.75" fill="#0a0a0a"/>
<circle cx="930.55" cy="1050.95" r="3.75" fill="#0a0a0a"/>
<circle cx="949.2" cy="1038.35" r="3.75" fill="#0a0a0a"/>
<circle cx="967.85" cy="1038.35" r="3.75" fill="#0a0a0a"/>
<circle cx="986.5" cy="1050.95" r="3.75" fill="#0a0a0a"/>
<circle cx="1005.15" cy="1050.95" r="3.75" fill="#0a0a0a"/>
<circle cx="1023.8" cy="1050.95" r="3.75" fill="#0a0a0a"/>
<path d="M711.61 1069.22L720.54 1071.38M730.29 1071.49L739.16 1069.56M749.01 1067.9L757.74 1066.85M767.47 1064.75L776.58 1061.9M786.3 1061.12L795.05 1062.38M804.55 1061.02L814.1 1056.63M823.63 1054.07L832.32 1053.23M841.44 1049.95L851.81 1042.95M860.81 1038.98L869.74 1036.82M878.56 1032.59L889.29 1024.31M897.07 1018.02L908.08 1008.73M916.36 1003.24L926.09 998.31M935.29 994.45L944.46 991.35M953.83 987.85L963.22 984M971.72 978.93L982.63 969.97M988.63 962.28L1003.02 931.72M1006.23 922.32L1022.72 847.48M1025.82 838.02L1040.43 804.88" stroke="#e3141c" stroke-width="1.2" fill="none"/>
<path d="M703.55 1068.05H709.95M706.75 1064.85V1071.25" stroke="#d85555" stroke-width="0.9" fill="none"/>
<path d="M722.2 1072.55H728.6M725.4 1069.35V1075.75" stroke="#d85555" stroke-width="0.9" fill="none"/>
<path d="M740.85 1068.5H747.25M744.05 1065.3V1071.7" stroke="#d85555" stroke-width="0.9" fill="none"/>
<path d="M759.5 1066.25H765.9M762.7 1063.05V1069.45" stroke="#d85555" stroke-width="0.9" fill="none"/>
<path d="M778.15 1060.4H784.55M781.35 1057.2V1063.6" stroke="#d85555" stroke-width="0.9" fill="none"/>
<path d="M796.8 1063.1H803.2M800 1059.9V1066.3" stroke="#d85555" stroke-width="0.9" fill="none"/>
<path d="M815.45 1054.55H821.85M818.65 1051.35V1057.75" stroke="#d85555" stroke-width="0.9" fill="none"/>
<path d="M834.1 1052.75H840.5M837.3 1049.55V1055.95" stroke="#d85555" stroke-width="0.9" fill="none"/>
<path d="M852.75 1040.15H859.15M855.95 1036.95V1043.35" stroke="#d85555" stroke-width="0.9" fill="none"/>
<path d="M871.4 1035.65H877.8M874.6 1032.45V1038.85" stroke="#d85555" stroke-width="0.9" fill="none"/>
<path d="M890.05 1021.25H896.45M893.25 1018.05V1024.45" stroke="#d85555" stroke-width="0.9" fill="none"/>
<path d="M908.7 1005.5H915.1M911.9 1002.3V1008.7" stroke="#d85555" stroke-width="0.9" fill="none"/>
<path d="M927.35 996.05H933.75M930.55 992.85V999.25" stroke="#d85555" stroke-width="0.9" fill="none"/>
<path d="M946 989.75H952.4M949.2 986.55V992.95" stroke="#d85555" stroke-width="0.9" fill="none"/>
<path d="M964.65 982.1H971.05M967.85 978.9V985.3" stroke="#d85555" stroke-width="0.9" fill="none"/>
<path d="M983.3 966.8H989.7M986.5 963.6V970" stroke="#d85555" stroke-width="0.9" fill="none"/>
<path d="M1001.95 927.2H1008.35M1005.15 924V930.4" stroke="#d85555" stroke-width="0.9" fill="none"/>
<path d="M1020.6 842.6H1027M1023.8 839.4V845.8" stroke="#d85555" stroke-width="0.9" fill="none"/>
<path d="M1039.25 800.3H1045.65M1042.45 797.1V803.5" stroke="#d85555" stroke-width="0.9" fill="none"/>
<path d="M718.7 924.95L732.1 924.95M720.66 920.21L730.14 929.69M725.4 918.25L725.4 931.65M730.14 920.21L720.66 929.69" stroke="#e6dc3c" stroke-width="1.9" fill="none"/>
<path d="M774.65 962.75L788.05 962.75M776.61 958.01L786.09 967.49M781.35 956.05L781.35 969.45M786.09 958.01L776.61 967.49" stroke="#e6dc3c" stroke-width="1.9" fill="none"/>
<path d="M793.3 962.75L806.7 962.75M795.26 958.01L804.74 967.49M800 956.05L800 969.45M804.74 958.01L795.26 967.49" stroke="#e6dc3c" stroke-width="1.9" fill="none"/>
<path d="M1035.75 1050.95L1049.15 1050.95M1037.71 1046.21L1047.19 1055.69M1042.45 1044.25L1042.45 1057.65M1047.19 1046.21L1037.71 1055.69" stroke="#e6dc3c" stroke-width="1.9" fill="none"/>
<path d="M732.7 987.95L746.1 987.95M734.66 983.21L744.14 992.69M739.4 981.25L739.4 994.65M744.14 983.21L734.66 992.69" stroke="#e6dc3c" stroke-width="1.9" fill="none"/>
<path d="M793.1 962.75L806.5 962.75M795.06 958.01L804.54 967.49M799.8 956.05L799.8 969.45M804.54 958.01L795.06 967.49" stroke="#e6dc3c" stroke-width="1.9" fill="none"/>
<path d="M823.3 975.35L836.7 975.35M825.26 970.61L834.74 980.09M830 968.65L830 982.05M834.74 970.61L825.26 980.09" stroke="#e6dc3c" stroke-width="1.9" fill="none"/>
<text x="713" y="940" font-size="14" fill="#111" text-anchor="middle" font-weight="bold" >MA</text>
<text x="778.25" y="958.25" font-size="14" fill="#111" text-anchor="middle" font-weight="bold" >SG</text>
<text x="798.25" y="952.5" font-size="14" fill="#111" text-anchor="middle" font-weight="bold" >GZ</text>
<text x="740.75" y="1006.75" font-size="14" fill="#1c1cf0" text-anchor="middle" font-weight="bold" >MA</text>
<text x="800.75" y="983" font-size="14" fill="#1c1cf0" text-anchor="middle" font-weight="bold" >SG</text>
<text x="830" y="994.5" font-size="14" fill="#1c1cf0" text-anchor="middle" font-weight="bold" >GZ</text>
<text x="1047.5" y="1071" font-size="14" fill="#111" text-anchor="middle" font-weight="bold" >LM</text>
</g>
<g>
<line x1="85.5" y1="1239.5" x2="479" y2="1239.5" stroke="#111" stroke-width="1.5" />
<line x1="86.25" y1="1239.5" x2="86.25" y2="1233.5" stroke="#111" stroke-width="1.3" />
<line x1="101.33" y1="1239.5" x2="101.33" y2="1236.1" stroke="#111" stroke-width="1.2" />
<line x1="116.4" y1="1239.5" x2="116.4" y2="1233.5" stroke="#111" stroke-width="1.3" />
<line x1="131.48" y1="1239.5" x2="131.48" y2="1236.1" stroke="#111" stroke-width="1.2" />
<line x1="146.56" y1="1239.5" x2="146.56" y2="1233.5" stroke="#111" stroke-width="1.3" />
<line x1="161.63" y1="1239.5" x2="161.63" y2="1236.1" stroke="#111" stroke-width="1.2" />
<line x1="176.71" y1="1239.5" x2="176.71" y2="1233.5" stroke="#111" stroke-width="1.3" />
<line x1="191.79" y1="1239.5" x2="191.79" y2="1236.1" stroke="#111" stroke-width="1.2" />
<line x1="206.87" y1="1239.5" x2="206.87" y2="1233.5" stroke="#111" stroke-width="1.3" />
<line x1="221.94" y1="1239.5" x2="221.94" y2="1236.1" stroke="#111" stroke-width="1.2" />
<line x1="237.02" y1="1239.5" x2="237.02" y2="1233.5" stroke="#111" stroke-width="1.3" />
<line x1="252.1" y1="1239.5" x2="252.1" y2="1236.1" stroke="#111" stroke-width="1.2" />
<line x1="267.17" y1="1239.5" x2="267.17" y2="1233.5" stroke="#111" stroke-width="1.3" />
<line x1="282.25" y1="1239.5" x2="282.25" y2="1236.1" stroke="#111" stroke-width="1.2" />
<line x1="297.33" y1="1239.5" x2="297.33" y2="1233.5" stroke="#111" stroke-width="1.3" />
<line x1="312.4" y1="1239.5" x2="312.4" y2="1236.1" stroke="#111" stroke-width="1.2" />
<line x1="327.48" y1="1239.5" x2="327.48" y2="1233.5" stroke="#111" stroke-width="1.3" />
<line x1="342.56" y1="1239.5" x2="342.56" y2="1236.1" stroke="#111" stroke-width="1.2" />
<line x1="357.63" y1="1239.5" x2="357.63" y2="1233.5" stroke="#111" stroke-width="1.3" />
<line x1="372.71" y1="1239.5" x2="372.71" y2="1236.1" stroke="#111" stroke-width="1.2" />
<line x1="387.79" y1="1239.5" x2="387.79" y2="1233.5" stroke="#111" stroke-width="1.3" />
<line x1="402.87" y1="1239.5" x2="402.87" y2="1236.1" stroke="#111" stroke-width="1.2" />
<line x1="417.94" y1="1239.5" x2="417.94" y2="1233.5" stroke="#111" stroke-width="1.3" />
<line x1="433.02" y1="1239.5" x2="433.02" y2="1236.1" stroke="#111" stroke-width="1.2" />
<line x1="448.1" y1="1239.5" x2="448.1" y2="1233.5" stroke="#111" stroke-width="1.3" />
<line x1="463.17" y1="1239.5" x2="463.17" y2="1236.1" stroke="#111" stroke-width="1.2" />
<line x1="478.25" y1="1239.5" x2="478.25" y2="1233.5" stroke="#111" stroke-width="1.3" />
<line x1="86.25" y1="1239.5" x2="86.25" y2="1555.5" stroke="#111" stroke-width="1.5" />
<line x1="86.25" y1="1271" x2="80.25" y2="1271" stroke="#111" stroke-width="1.3" />
<text x="74.95" y="1276.4" font-size="17.3" fill="#111" text-anchor="end" font-weight="normal" >−8</text>
<line x1="86.25" y1="1334.2" x2="80.25" y2="1334.2" stroke="#111" stroke-width="1.3" />
<text x="74.95" y="1339.6" font-size="17.3" fill="#111" text-anchor="end" font-weight="normal" >−10</text>
<line x1="86.25" y1="1397.4" x2="80.25" y2="1397.4" stroke="#111" stroke-width="1.3" />
<text x="74.95" y="1402.8" font-size="17.3" fill="#111" text-anchor="end" font-weight="normal" >−12</text>
<line x1="86.25" y1="1460.6" x2="80.25" y2="1460.6" stroke="#111" stroke-width="1.3" />
<text x="74.95" y="1466" font-size="17.3" fill="#111" text-anchor="end" font-weight="normal" >−14</text>
<line x1="86.25" y1="1523.8" x2="80.25" y2="1523.8" stroke="#111" stroke-width="1.3" />
<text x="74.95" y="1529.2" font-size="17.3" fill="#111" text-anchor="end" font-weight="normal" >−16</text>
<line x1="86.25" y1="1302.6" x2="82.85" y2="1302.6" stroke="#111" stroke-width="1.2" />
<line x1="86.25" y1="1365.8" x2="82.85" y2="1365.8" stroke="#111" stroke-width="1.2" />
<line x1="86.25" y1="1429" x2="82.85" y2="1429" stroke="#111" stroke-width="1.2" />
<line x1="86.25" y1="1492.2" x2="82.85" y2="1492.2" stroke="#111" stroke-width="1.2" />
<line x1="478.25" y1="1239.5" x2="478.25" y2="1555.5" stroke="#333" stroke-width="1.1" />
<line x1="85.5" y1="1555.5" x2="479" y2="1555.5" stroke="#0a0aee" stroke-width="1.5" />
<line x1="85.5" y1="1555.5" x2="85.5" y2="1558.9" stroke="#0a0aee" stroke-width="1.3" />
<line x1="94.83" y1="1555.5" x2="94.83" y2="1561.5" stroke="#0a0aee" stroke-width="1.3" />
<line x1="104.16" y1="1555.5" x2="104.16" y2="1558.9" stroke="#0a0aee" stroke-width="1.3" />
<line x1="113.5" y1="1555.5" x2="113.5" y2="1561.5" stroke="#0a0aee" stroke-width="1.3" />
<line x1="122.84" y1="1555.5" x2="122.84" y2="1558.9" stroke="#0a0aee" stroke-width="1.3" />
<line x1="132.17" y1="1555.5" x2="132.17" y2="1561.5" stroke="#0a0aee" stroke-width="1.3" />
<line x1="141.5" y1="1555.5" x2="141.5" y2="1558.9" stroke="#0a0aee" stroke-width="1.3" />
<line x1="150.84" y1="1555.5" x2="150.84" y2="1561.5" stroke="#0a0aee" stroke-width="1.3" />
<line x1="160.18" y1="1555.5" x2="160.18" y2="1558.9" stroke="#0a0aee" stroke-width="1.3" />
<line x1="169.51" y1="1555.5" x2="169.51" y2="1561.5" stroke="#0a0aee" stroke-width="1.3" />
<line x1="178.84" y1="1555.5" x2="178.84" y2="1558.9" stroke="#0a0aee" stroke-width="1.3" />
<line x1="188.18" y1="1555.5" x2="188.18" y2="1561.5" stroke="#0a0aee" stroke-width="1.3" />
<line x1="197.52" y1="1555.5" x2="197.52" y2="1558.9" stroke="#0a0aee" stroke-width="1.3" />
<line x1="206.85" y1="1555.5" x2="206.85" y2="1561.5" stroke="#0a0aee" stroke-width="1.3" />
<line x1="216.19" y1="1555.5" x2="216.19" y2="1558.9" stroke="#0a0aee" stroke-width="1.3" />
<line x1="225.52" y1="1555.5" x2="225.52" y2="1561.5" stroke="#0a0aee" stroke-width="1.3" />
<line x1="234.86" y1="1555.5" x2="234.86" y2="1558.9" stroke="#0a0aee" stroke-width="1.3" />
<line x1="244.19" y1="1555.5" x2="244.19" y2="1561.5" stroke="#0a0aee" stroke-width="1.3" />
<line x1="253.53" y1="1555.5" x2="253.53" y2="1558.9" stroke="#0a0aee" stroke-width="1.3" />
<line x1="262.86" y1="1555.5" x2="262.86" y2="1561.5" stroke="#0a0aee" stroke-width="1.3" />
<line x1="272.2" y1="1555.5" x2="272.2" y2="1558.9" stroke="#0a0aee" stroke-width="1.3" />
<line x1="281.53" y1="1555.5" x2="281.53" y2="1561.5" stroke="#0a0aee" stroke-width="1.3" />
<line x1="290.87" y1="1555.5" x2="290.87" y2="1558.9" stroke="#0a0aee" stroke-width="1.3" />
<line x1="300.2" y1="1555.5" x2="300.2" y2="1561.5" stroke="#0a0aee" stroke-width="1.3" />
<line x1="309.54" y1="1555.5" x2="309.54" y2="1558.9" stroke="#0a0aee" stroke-width="1.3" />
<line x1="318.87" y1="1555.5" x2="318.87" y2="1561.5" stroke="#0a0aee" stroke-width="1.3" />
<line x1="328.21" y1="1555.5" x2="328.21" y2="1558.9" stroke="#0a0aee" stroke-width="1.3" />
<line x1="337.54" y1="1555.5" x2="337.54" y2="1561.5" stroke="#0a0aee" stroke-width="1.3" />
<line x1="346.88" y1="1555.5" x2="346.88" y2="1558.9" stroke="#0a0aee" stroke-width="1.3" />
<line x1="356.21" y1="1555.5" x2="356.21" y2="1561.5" stroke="#0a0aee" stroke-width="1.3" />
<line x1="365.55" y1="1555.5" x2="365.55" y2="1558.9" stroke="#0a0aee" stroke-width="1.3" />
<line x1="374.88" y1="1555.5" x2="374.88" y2="1561.5" stroke="#0a0aee" stroke-width="1.3" />
<line x1="384.22" y1="1555.5" x2="384.22" y2="1558.9" stroke="#0a0aee" stroke-width="1.3" />
<line x1="393.55" y1="1555.5" x2="393.55" y2="1561.5" stroke="#0a0aee" stroke-width="1.3" />
<line x1="402.89" y1="1555.5" x2="402.89" y2="1558.9" stroke="#0a0aee" stroke-width="1.3" />
<line x1="412.22" y1="1555.5" x2="412.22" y2="1561.5" stroke="#0a0aee" stroke-width="1.3" />
<line x1="421.56" y1="1555.5" x2="421.56" y2="1558.9" stroke="#0a0aee" stroke-width="1.3" />
<line x1="430.89" y1="1555.5" x2="430.89" y2="1561.5" stroke="#0a0aee" stroke-width="1.3" />
<line x1="440.23" y1="1555.5" x2="440.23" y2="1558.9" stroke="#0a0aee" stroke-width="1.3" />
<line x1="449.56" y1="1555.5" x2="449.56" y2="1561.5" stroke="#0a0aee" stroke-width="1.3" />
<line x1="458.9" y1="1555.5" x2="458.9" y2="1558.9" stroke="#0a0aee" stroke-width="1.3" />
<line x1="468.23" y1="1555.5" x2="468.23" y2="1561.5" stroke="#0a0aee" stroke-width="1.3" />
<line x1="477.57" y1="1555.5" x2="477.57" y2="1558.9" stroke="#0a0aee" stroke-width="1.3" />
<text x="153.75" y="1230.4" font-size="17.3" fill="#111" text-anchor="middle" font-weight="normal" >09:00</text>
<text x="245.5" y="1230.4" font-size="17.3" fill="#111" text-anchor="middle" font-weight="normal" >10:00</text>
<text x="339.25" y="1230.4" font-size="17.3" fill="#111" text-anchor="middle" font-weight="normal" >11:00</text>
<text x="427.5" y="1230.4" font-size="17.3" fill="#111" text-anchor="middle" font-weight="normal" >12:00</text>
<text x="103.75" y="1577.8" font-size="17.3" fill="#0a0aee" text-anchor="middle" font-weight="normal" >14:00</text>
<text x="273.75" y="1577.8" font-size="17.3" fill="#0a0aee" text-anchor="middle" font-weight="normal" >13:00</text>
<text x="419" y="1577.8" font-size="17.3" fill="#0a0aee" text-anchor="middle" font-weight="normal" >12:00</text>
<line x1="231.25" y1="1194.5" x2="326.75" y2="1194.5" stroke="#111" stroke-width="1.6" />
<path d="M336.25 1194.5L325.75 1189.9L325.75 1199.1Z" fill="#111"/>
<line x1="230.75" y1="1590.75" x2="332" y2="1590.75" stroke="#0a0aee" stroke-width="1.8" />
<path d="M221.25 1590.75L231.75 1586.15L231.75 1595.35Z" fill="#0a0aee"/>
<text transform="translate(32 1542.5) rotate(-90)" font-size="25.5" fill="#111" text-anchor="start" textLength="290" lengthAdjust="spacing"><tspan font-family="'Liberation Serif', 'DejaVu Serif', serif" font-size="27">δ</tspan><tspan font-size="17.5" dy="-10">13</tspan><tspan dy="10">C-CO</tspan><tspan font-size="17.5" dy="6">2</tspan><tspan dy="-6"> (‰ vs. V-PDB)</tspan></text>
<path d="M120.58 1348.04L142.12 1332.05M151.7 1330.09L171.4 1334.83M181.99 1336.88L201.51 1339.74M212.24 1340.86L231.66 1342.08M240.9 1346.2L263.4 1368.33M271.08 1368.31L293.62 1345.91M302.59 1343.77L322.51 1350.23M332.95 1352.95L352.55 1356.85M363.24 1357.62L382.66 1356.6M392.94 1354.02L413.36 1344.4M423.52 1340.94L443.18 1336.62" stroke="#0000e6" stroke-width="1.9" fill="none"/>
<circle cx="116.25" cy="1351.26" r="3.65" fill="#0000e6"/>
<circle cx="176.65" cy="1336.1" r="3.65" fill="#0000e6"/>
<circle cx="206.85" cy="1340.52" r="3.65" fill="#0000e6"/>
<circle cx="297.45" cy="1342.1" r="3.65" fill="#0000e6"/>
<circle cx="327.65" cy="1351.9" r="3.65" fill="#0000e6"/>
<circle cx="357.85" cy="1357.9" r="3.65" fill="#0000e6"/>
<circle cx="388.05" cy="1356.32" r="3.65" fill="#0000e6"/>
<circle cx="418.25" cy="1342.1" r="3.65" fill="#0000e6"/>
<path d="M116.07 1508.01L129.6 1532.96M132.83 1532.34L150.18 1390.75M156.24 1385.39L164.11 1385.39M173.6 1388.92L184.09 1397.98M190.97 1396.88L204.06 1375.16M208.56 1375.66L223.81 1421.35M228.09 1421.72L241.62 1396.78M249.51 1391.13L257.54 1389.77M267.23 1385.69L277.16 1378.46M284.76 1370.96L296.97 1354.64M304.98 1347.81L314.09 1343.03M323.62 1337.95L332.79 1332.98M342.08 1333.33L351.67 1339.49M361.3 1344.22L369.79 1347.24M380.11 1347.72L388.32 1345.64M398.86 1343.32L406.91 1341.82M417.58 1341.47L425.53 1342.41M435.89 1341.02L444.56 1337.5" stroke="#111" stroke-width="1.8" fill="none"/>
<circle cx="113.5" cy="1503.26" r="3.65" fill="#0a0a0a"/>
<circle cx="150.84" cy="1385.39" r="3.65" fill="#0a0a0a"/>
<circle cx="169.51" cy="1385.39" r="3.65" fill="#0a0a0a"/>
<circle cx="225.52" cy="1426.47" r="3.65" fill="#0a0a0a"/>
<circle cx="244.19" cy="1392.03" r="3.65" fill="#0a0a0a"/>
<circle cx="262.86" cy="1388.87" r="3.65" fill="#0a0a0a"/>
<circle cx="281.53" cy="1375.28" r="3.65" fill="#0a0a0a"/>
<circle cx="300.2" cy="1350.32" r="3.65" fill="#0a0a0a"/>
<circle cx="318.87" cy="1340.52" r="3.65" fill="#0a0a0a"/>
<circle cx="337.54" cy="1330.41" r="3.65" fill="#0a0a0a"/>
<circle cx="356.21" cy="1342.42" r="3.65" fill="#0a0a0a"/>
<circle cx="374.88" cy="1349.05" r="3.65" fill="#0a0a0a"/>
<circle cx="393.55" cy="1344.31" r="3.65" fill="#0a0a0a"/>
<circle cx="412.22" cy="1340.84" r="3.65" fill="#0a0a0a"/>
<circle cx="430.89" cy="1343.05" r="3.65" fill="#0a0a0a"/>
<path d="M125.67 1537.7L138.67 1537.7M127.57 1533.11L136.77 1542.3M132.17 1531.2L132.17 1544.2M136.77 1533.11L127.57 1542.3" stroke="#e6dc3c" stroke-width="1.9" fill="none"/>
<path d="M181.68 1401.51L194.68 1401.51M183.58 1396.91L192.78 1406.1M188.18 1395.01L188.18 1408.01M192.78 1396.91L183.58 1406.1" stroke="#e6dc3c" stroke-width="1.9" fill="none"/>
<path d="M200.35 1370.54L213.35 1370.54M202.25 1365.94L211.45 1375.14M206.85 1364.04L206.85 1377.04M211.45 1365.94L202.25 1375.14" stroke="#e6dc3c" stroke-width="1.9" fill="none"/>
<path d="M443.06 1335.46L456.06 1335.46M444.96 1330.87L454.16 1340.06M449.56 1328.96L449.56 1341.96M454.16 1330.87L444.96 1340.06" stroke="#e6dc3c" stroke-width="1.9" fill="none"/>
<path d="M139.95 1328.83L152.95 1328.83M141.85 1324.23L151.05 1333.42M146.45 1322.33L146.45 1335.33M151.05 1324.23L141.85 1333.42" stroke="#e6dc3c" stroke-width="1.9" fill="none"/>
<path d="M230.55 1342.42L243.55 1342.42M232.45 1337.82L241.65 1347.01M237.05 1335.92L237.05 1348.92M241.65 1337.82L232.45 1347.01" stroke="#e6dc3c" stroke-width="1.9" fill="none"/>
<path d="M260.75 1372.12L273.75 1372.12M262.65 1367.52L271.85 1376.72M267.25 1365.62L267.25 1378.62M271.85 1367.52L262.65 1376.72" stroke="#e6dc3c" stroke-width="1.9" fill="none"/>
<text x="148" y="1322.5" font-size="14" fill="#0000e6" text-anchor="middle" font-weight="bold" >MA</text>
<text x="237" y="1335" font-size="14" fill="#0000e6" text-anchor="middle" font-weight="bold" >SG</text>
<text x="267.5" y="1364" font-size="14" fill="#0000e6" text-anchor="middle" font-weight="bold" >GZ</text>
<text x="207.5" y="1364" font-size="14" fill="#111" text-anchor="middle" font-weight="bold" >GZ</text>
<text x="188.5" y="1419.5" font-size="14" fill="#111" text-anchor="middle" font-weight="bold" >SG</text>
<text x="150" y="1544" font-size="14" fill="#111" text-anchor="middle" font-weight="bold" >MA</text>
<text x="457" y="1329.5" font-size="14" fill="#111" text-anchor="middle" font-weight="bold" >LM</text>
</g>
<g>
<line x1="678.25" y1="1239.5" x2="1072" y2="1239.5" stroke="#111" stroke-width="1.5" />
<line x1="679" y1="1239.5" x2="679" y2="1233.5" stroke="#111" stroke-width="1.3" />
<line x1="694.09" y1="1239.5" x2="694.09" y2="1236.1" stroke="#111" stroke-width="1.2" />
<line x1="709.17" y1="1239.5" x2="709.17" y2="1233.5" stroke="#111" stroke-width="1.3" />
<line x1="724.26" y1="1239.5" x2="724.26" y2="1236.1" stroke="#111" stroke-width="1.2" />
<line x1="739.35" y1="1239.5" x2="739.35" y2="1233.5" stroke="#111" stroke-width="1.3" />
<line x1="754.43" y1="1239.5" x2="754.43" y2="1236.1" stroke="#111" stroke-width="1.2" />
<line x1="769.52" y1="1239.5" x2="769.52" y2="1233.5" stroke="#111" stroke-width="1.3" />
<line x1="784.61" y1="1239.5" x2="784.61" y2="1236.1" stroke="#111" stroke-width="1.2" />
<line x1="799.69" y1="1239.5" x2="799.69" y2="1233.5" stroke="#111" stroke-width="1.3" />
<line x1="814.78" y1="1239.5" x2="814.78" y2="1236.1" stroke="#111" stroke-width="1.2" />
<line x1="829.87" y1="1239.5" x2="829.87" y2="1233.5" stroke="#111" stroke-width="1.3" />
<line x1="844.95" y1="1239.5" x2="844.95" y2="1236.1" stroke="#111" stroke-width="1.2" />
<line x1="860.04" y1="1239.5" x2="860.04" y2="1233.5" stroke="#111" stroke-width="1.3" />
<line x1="875.12" y1="1239.5" x2="875.12" y2="1236.1" stroke="#111" stroke-width="1.2" />
<line x1="890.21" y1="1239.5" x2="890.21" y2="1233.5" stroke="#111" stroke-width="1.3" />
<line x1="905.3" y1="1239.5" x2="905.3" y2="1236.1" stroke="#111" stroke-width="1.2" />
<line x1="920.38" y1="1239.5" x2="920.38" y2="1233.5" stroke="#111" stroke-width="1.3" />
<line x1="935.47" y1="1239.5" x2="935.47" y2="1236.1" stroke="#111" stroke-width="1.2" />
<line x1="950.56" y1="1239.5" x2="950.56" y2="1233.5" stroke="#111" stroke-width="1.3" />
<line x1="965.64" y1="1239.5" x2="965.64" y2="1236.1" stroke="#111" stroke-width="1.2" />
<line x1="980.73" y1="1239.5" x2="980.73" y2="1233.5" stroke="#111" stroke-width="1.3" />
<line x1="995.82" y1="1239.5" x2="995.82" y2="1236.1" stroke="#111" stroke-width="1.2" />
<line x1="1010.9" y1="1239.5" x2="1010.9" y2="1233.5" stroke="#111" stroke-width="1.3" />
<line x1="1025.99" y1="1239.5" x2="1025.99" y2="1236.1" stroke="#111" stroke-width="1.2" />
<line x1="1041.08" y1="1239.5" x2="1041.08" y2="1233.5" stroke="#111" stroke-width="1.3" />
<line x1="1056.16" y1="1239.5" x2="1056.16" y2="1236.1" stroke="#111" stroke-width="1.2" />
<line x1="1071.25" y1="1239.5" x2="1071.25" y2="1233.5" stroke="#111" stroke-width="1.3" />
<line x1="679" y1="1239.5" x2="679" y2="1554.8" stroke="#111" stroke-width="1.5" />
<line x1="679" y1="1289.5" x2="673" y2="1289.5" stroke="#111" stroke-width="1.3" />
<text x="667.7" y="1294.9" font-size="17.3" fill="#111" text-anchor="end" font-weight="normal" >−42</text>
<line x1="679" y1="1355.76" x2="673" y2="1355.76" stroke="#111" stroke-width="1.3" />
<text x="667.7" y="1361.16" font-size="17.3" fill="#111" text-anchor="end" font-weight="normal" >−44</text>
<line x1="679" y1="1422.02" x2="673" y2="1422.02" stroke="#111" stroke-width="1.3" />
<text x="667.7" y="1427.42" font-size="17.3" fill="#111" text-anchor="end" font-weight="normal" >−46</text>
<line x1="679" y1="1488.28" x2="673" y2="1488.28" stroke="#111" stroke-width="1.3" />
<text x="667.7" y="1493.68" font-size="17.3" fill="#111" text-anchor="end" font-weight="normal" >−48</text>
<line x1="679" y1="1554.54" x2="673" y2="1554.54" stroke="#111" stroke-width="1.3" />
<text x="667.7" y="1559.94" font-size="17.3" fill="#111" text-anchor="end" font-weight="normal" >−50</text>
<line x1="679" y1="1256.37" x2="675.6" y2="1256.37" stroke="#111" stroke-width="1.2" />
<line x1="679" y1="1322.63" x2="675.6" y2="1322.63" stroke="#111" stroke-width="1.2" />
<line x1="679" y1="1388.89" x2="675.6" y2="1388.89" stroke="#111" stroke-width="1.2" />
<line x1="679" y1="1455.15" x2="675.6" y2="1455.15" stroke="#111" stroke-width="1.2" />
<line x1="679" y1="1521.41" x2="675.6" y2="1521.41" stroke="#111" stroke-width="1.2" />
<line x1="1071.25" y1="1239.5" x2="1071.25" y2="1554.8" stroke="#333" stroke-width="1.1" />
<line x1="678.25" y1="1554.8" x2="1072" y2="1554.8" stroke="#0a0aee" stroke-width="1.5" />
<line x1="678.77" y1="1554.8" x2="678.77" y2="1558.2" stroke="#0a0aee" stroke-width="1.3" />
<line x1="688.1" y1="1554.8" x2="688.1" y2="1560.8" stroke="#0a0aee" stroke-width="1.3" />
<line x1="697.42" y1="1554.8" x2="697.42" y2="1558.2" stroke="#0a0aee" stroke-width="1.3" />
<line x1="706.75" y1="1554.8" x2="706.75" y2="1560.8" stroke="#0a0aee" stroke-width="1.3" />
<line x1="716.08" y1="1554.8" x2="716.08" y2="1558.2" stroke="#0a0aee" stroke-width="1.3" />
<line x1="725.4" y1="1554.8" x2="725.4" y2="1560.8" stroke="#0a0aee" stroke-width="1.3" />
<line x1="734.73" y1="1554.8" x2="734.73" y2="1558.2" stroke="#0a0aee" stroke-width="1.3" />
<line x1="744.05" y1="1554.8" x2="744.05" y2="1560.8" stroke="#0a0aee" stroke-width="1.3" />
<line x1="753.38" y1="1554.8" x2="753.38" y2="1558.2" stroke="#0a0aee" stroke-width="1.3" />
<line x1="762.7" y1="1554.8" x2="762.7" y2="1560.8" stroke="#0a0aee" stroke-width="1.3" />
<line x1="772.02" y1="1554.8" x2="772.02" y2="1558.2" stroke="#0a0aee" stroke-width="1.3" />
<line x1="781.35" y1="1554.8" x2="781.35" y2="1560.8" stroke="#0a0aee" stroke-width="1.3" />
<line x1="790.67" y1="1554.8" x2="790.67" y2="1558.2" stroke="#0a0aee" stroke-width="1.3" />
<line x1="800" y1="1554.8" x2="800" y2="1560.8" stroke="#0a0aee" stroke-width="1.3" />
<line x1="809.33" y1="1554.8" x2="809.33" y2="1558.2" stroke="#0a0aee" stroke-width="1.3" />
<line x1="818.65" y1="1554.8" x2="818.65" y2="1560.8" stroke="#0a0aee" stroke-width="1.3" />
<line x1="827.98" y1="1554.8" x2="827.98" y2="1558.2" stroke="#0a0aee" stroke-width="1.3" />
<line x1="837.3" y1="1554.8" x2="837.3" y2="1560.8" stroke="#0a0aee" stroke-width="1.3" />
<line x1="846.62" y1="1554.8" x2="846.62" y2="1558.2" stroke="#0a0aee" stroke-width="1.3" />
<line x1="855.95" y1="1554.8" x2="855.95" y2="1560.8" stroke="#0a0aee" stroke-width="1.3" />
<line x1="865.27" y1="1554.8" x2="865.27" y2="1558.2" stroke="#0a0aee" stroke-width="1.3" />
<line x1="874.6" y1="1554.8" x2="874.6" y2="1560.8" stroke="#0a0aee" stroke-width="1.3" />
<line x1="883.92" y1="1554.8" x2="883.92" y2="1558.2" stroke="#0a0aee" stroke-width="1.3" />
<line x1="893.25" y1="1554.8" x2="893.25" y2="1560.8" stroke="#0a0aee" stroke-width="1.3" />
<line x1="902.58" y1="1554.8" x2="902.58" y2="1558.2" stroke="#0a0aee" stroke-width="1.3" />
<line x1="911.9" y1="1554.8" x2="911.9" y2="1560.8" stroke="#0a0aee" stroke-width="1.3" />
<line x1="921.23" y1="1554.8" x2="921.23" y2="1558.2" stroke="#0a0aee" stroke-width="1.3" />
<line x1="930.55" y1="1554.8" x2="930.55" y2="1560.8" stroke="#0a0aee" stroke-width="1.3" />
<line x1="939.88" y1="1554.8" x2="939.88" y2="1558.2" stroke="#0a0aee" stroke-width="1.3" />
<line x1="949.2" y1="1554.8" x2="949.2" y2="1560.8" stroke="#0a0aee" stroke-width="1.3" />
<line x1="958.52" y1="1554.8" x2="958.52" y2="1558.2" stroke="#0a0aee" stroke-width="1.3" />
<line x1="967.85" y1="1554.8" x2="967.85" y2="1560.8" stroke="#0a0aee" stroke-width="1.3" />
<line x1="977.17" y1="1554.8" x2="977.17" y2="1558.2" stroke="#0a0aee" stroke-width="1.3" />
<line x1="986.5" y1="1554.8" x2="986.5" y2="1560.8" stroke="#0a0aee" stroke-width="1.3" />
<line x1="995.83" y1="1554.8" x2="995.83" y2="1558.2" stroke="#0a0aee" stroke-width="1.3" />
<line x1="1005.15" y1="1554.8" x2="1005.15" y2="1560.8" stroke="#0a0aee" stroke-width="1.3" />
<line x1="1014.47" y1="1554.8" x2="1014.47" y2="1558.2" stroke="#0a0aee" stroke-width="1.3" />
<line x1="1023.8" y1="1554.8" x2="1023.8" y2="1560.8" stroke="#0a0aee" stroke-width="1.3" />
<line x1="1033.12" y1="1554.8" x2="1033.12" y2="1558.2" stroke="#0a0aee" stroke-width="1.3" />
<line x1="1042.45" y1="1554.8" x2="1042.45" y2="1560.8" stroke="#0a0aee" stroke-width="1.3" />
<line x1="1051.78" y1="1554.8" x2="1051.78" y2="1558.2" stroke="#0a0aee" stroke-width="1.3" />
<line x1="1061.1" y1="1554.8" x2="1061.1" y2="1560.8" stroke="#0a0aee" stroke-width="1.3" />
<line x1="1070.42" y1="1554.8" x2="1070.42" y2="1558.2" stroke="#0a0aee" stroke-width="1.3" />
<text x="746.25" y="1231.9" font-size="17.3" fill="#111" text-anchor="middle" font-weight="normal" >09:00</text>
<text x="838" y="1231.9" font-size="17.3" fill="#111" text-anchor="middle" font-weight="normal" >10:00</text>
<text x="930.75" y="1231.9" font-size="17.3" fill="#111" text-anchor="middle" font-weight="normal" >11:00</text>
<text x="1020" y="1231.9" font-size="17.3" fill="#111" text-anchor="middle" font-weight="normal" >12:00</text>
<text x="696.25" y="1578.3" font-size="17.3" fill="#0a0aee" text-anchor="middle" font-weight="normal" >14:00</text>
<text x="866.25" y="1578.3" font-size="17.3" fill="#0a0aee" text-anchor="middle" font-weight="normal" >13:00</text>
<text x="1014" y="1578.3" font-size="17.3" fill="#0a0aee" text-anchor="middle" font-weight="normal" >12:00</text>
<line x1="831.5" y1="1197.5" x2="926.75" y2="1197.5" stroke="#111" stroke-width="1.6" />
<path d="M936.25 1197.5L925.75 1192.9L925.75 1202.1Z" fill="#111"/>
<line x1="840.75" y1="1594.5" x2="943" y2="1594.5" stroke="#0a0aee" stroke-width="1.8" />
<path d="M831.25 1594.5L841.75 1589.9L841.75 1599.1Z" fill="#0a0aee"/>
<text transform="translate(624 1542.5) rotate(-90)" font-size="25.5" fill="#111" text-anchor="start" textLength="290" lengthAdjust="spacing"><tspan font-family="'Liberation Serif', 'DejaVu Serif', serif" font-size="27">δ</tspan><tspan font-size="17.5" dy="-10">13</tspan><tspan dy="10">C-CH</tspan><tspan font-size="17.5" dy="6">4</tspan><tspan dy="-6"> (‰ vs. V-PDB)</tspan></text>
<path d="M710.54 1408.53L737.16 1434.52M740.7 1434.48L767.4 1407.24M771.34 1404.25L797.16 1390.09M800.95 1386.97L827.95 1354.7M832.03 1352.48L857.27 1349.43M861.35 1351.06L888.35 1383.65M892.26 1384.62L917.84 1373.95M921.98 1374.69L948.52 1399.44M951.37 1398.87L979.53 1335.85M982.76 1332.4L1008.54 1318.83M1012.29 1319.63L1039.41 1354.45" stroke="#0000e6" stroke-width="1.9" fill="none"/>
<circle cx="708.75" cy="1406.78" r="3.65" fill="#0000e6"/>
<circle cx="769.15" cy="1405.45" r="3.65" fill="#0000e6"/>
<circle cx="859.75" cy="1349.13" r="3.65" fill="#0000e6"/>
<circle cx="889.95" cy="1385.58" r="3.65" fill="#0000e6"/>
<circle cx="920.15" cy="1372.99" r="3.65" fill="#0000e6"/>
<circle cx="950.35" cy="1401.15" r="3.65" fill="#0000e6"/>
<circle cx="980.55" cy="1333.56" r="3.65" fill="#0000e6"/>
<circle cx="1010.75" cy="1317.66" r="3.65" fill="#0000e6"/>
<path d="M708.96 1516.95L723.19 1524.54M725.62 1523.23L743.83 1316.18M745.6 1315.64L761.15 1335.25M763.34 1334.79L780.71 1269.39M781.87 1269.42L799.48 1352.65M800.64 1352.68L818.01 1286.62M819.99 1286.31L835.96 1311.57M839.22 1312.08L854.03 1299.72M856.82 1300.46L873.73 1345.8M876.85 1347.06L891 1340.28M894.21 1341.5L910.94 1381.61M912.93 1381.64L929.52 1344.79M931.71 1340.3L948.04 1309.27M950.87 1308.92L966.18 1326.07M970.22 1328.73L984.13 1333.43M987.53 1331.95L1004.12 1295.42M1007.22 1294.54L1021.73 1304.33M1024.66 1308.08L1041.59 1354.08" stroke="#111" stroke-width="1.8" fill="none"/>
<circle cx="706.75" cy="1515.78" r="3.65" fill="#0a0a0a"/>
<circle cx="725.4" cy="1525.72" r="3.65" fill="#0a0a0a"/>
<circle cx="744.05" cy="1313.68" r="3.65" fill="#0a0a0a"/>
<circle cx="762.7" cy="1337.21" r="3.65" fill="#0a0a0a"/>
<circle cx="781.35" cy="1266.97" r="3.65" fill="#0a0a0a"/>
<circle cx="800" cy="1355.1" r="3.65" fill="#0a0a0a"/>
<circle cx="818.65" cy="1284.2" r="3.65" fill="#0a0a0a"/>
<circle cx="837.3" cy="1313.68" r="3.65" fill="#0a0a0a"/>
<circle cx="855.95" cy="1298.11" r="3.65" fill="#0a0a0a"/>
<circle cx="874.6" cy="1348.14" r="3.65" fill="#0a0a0a"/>
<circle cx="893.25" cy="1339.19" r="3.65" fill="#0a0a0a"/>
<circle cx="911.9" cy="1383.92" r="3.65" fill="#0a0a0a"/>
<circle cx="930.55" cy="1342.51" r="3.65" fill="#0a0a0a"/>
<circle cx="949.2" cy="1307.06" r="3.65" fill="#0a0a0a"/>
<circle cx="967.85" cy="1327.93" r="3.65" fill="#0a0a0a"/>
<circle cx="986.5" cy="1334.23" r="3.65" fill="#0a0a0a"/>
<circle cx="1005.15" cy="1293.14" r="3.65" fill="#0a0a0a"/>
<circle cx="1023.8" cy="1305.73" r="3.65" fill="#0a0a0a"/>
<circle cx="1042.45" cy="1356.42" r="3.65" fill="#0a0a0a"/>
<path d="M732.45 1436.27L745.45 1436.27M734.35 1431.67L743.55 1440.86M738.95 1429.77L738.95 1442.77M743.55 1431.67L734.35 1440.86" stroke="#e6dc3c" stroke-width="1.9" fill="none"/>
<path d="M792.85 1388.89L805.85 1388.89M794.75 1384.29L803.95 1393.49M799.35 1382.39L799.35 1395.39M803.95 1384.29L794.75 1393.49" stroke="#e6dc3c" stroke-width="1.9" fill="none"/>
<path d="M823.05 1352.78L836.05 1352.78M824.95 1348.18L834.15 1357.37M829.55 1346.28L829.55 1359.28M834.15 1348.18L824.95 1357.37" stroke="#e6dc3c" stroke-width="1.9" fill="none"/>
<path d="M1034.45 1356.42L1047.45 1356.42M1036.35 1351.83L1045.55 1361.02M1040.95 1349.92L1040.95 1362.92M1045.55 1351.83L1036.35 1361.02" stroke="#e6dc3c" stroke-width="1.9" fill="none"/>
<text x="782.5" y="1262" font-size="14" fill="#111" text-anchor="middle" font-weight="bold" >SG</text>
<text x="792" y="1372.5" font-size="14" fill="#111" text-anchor="middle" font-weight="bold" >GZ</text>
<text x="834.25" y="1374.25" font-size="14" fill="#0000e6" text-anchor="middle" font-weight="bold" >GZ</text>
<text x="801.75" y="1410" font-size="14" fill="#0000e6" text-anchor="middle" font-weight="bold" >SG</text>
<text x="752.5" y="1452.5" font-size="14" fill="#0000e6" text-anchor="middle" font-weight="bold" >MA</text>
<text x="742" y="1533.25" font-size="14" fill="#111" text-anchor="middle" font-weight="bold" >MA</text>
<text x="1053.25" y="1349.25" font-size="14" fill="#111" text-anchor="middle" font-weight="bold" >LM</text>
</g>
<text x="1.2" y="718.8" font-size="34.3" fill="#111" text-anchor="start" font-weight="normal" >a)</text>
<text x="579.8" y="718.8" font-size="34.3" fill="#111" text-anchor="start" font-weight="normal" >b)</text>
<text x="1.4" y="1209.8" font-size="34.3" fill="#111" text-anchor="start" font-weight="normal" >c)</text>
<text x="580" y="1209.8" font-size="34.3" fill="#111" text-anchor="start" font-weight="normal" >d)</text>
<line x1="1025.8" y1="1130.5" x2="1042.5" y2="1130.5" stroke="#111" stroke-width="1.5" />
<line x1="1054" y1="1130.5" x2="1070.8" y2="1130.5" stroke="#111" stroke-width="1.5" />
<circle cx="1048.3" cy="1130.5" r="3.75" fill="#111"/>
<text x="1075.8" y="1137.1" font-size="19.8" fill="#111" text-anchor="start" font-weight="normal" >Outward route</text>
<line x1="1025.8" y1="1158.3" x2="1042.5" y2="1158.3" stroke="#1c1cf0" stroke-width="1.5" />
<line x1="1054" y1="1158.3" x2="1070.8" y2="1158.3" stroke="#1c1cf0" stroke-width="1.5" />
<circle cx="1048.3" cy="1158.3" r="3.75" fill="#1c1cf0"/>
<text x="1075.8" y="1164.9" font-size="19.8" fill="#1c1cf0" text-anchor="start" font-weight="normal" >Return route</text>
<line x1="1025.8" y1="1185.8" x2="1042.5" y2="1185.8" stroke="#e3141c" stroke-width="1.2" />
<line x1="1054" y1="1185.8" x2="1070.8" y2="1185.8" stroke="#e3141c" stroke-width="1.2" />
<path d="M1045.1 1185.8H1051.5M1048.3 1182.6V1189" stroke="#d85555" stroke-width="0.9" fill="none"/>
<text x="1075.8" y="1192.4" font-size="19.8" fill="#e3141c" text-anchor="start" font-weight="normal" >Altitude</text>
</g>
</svg></body></html>
